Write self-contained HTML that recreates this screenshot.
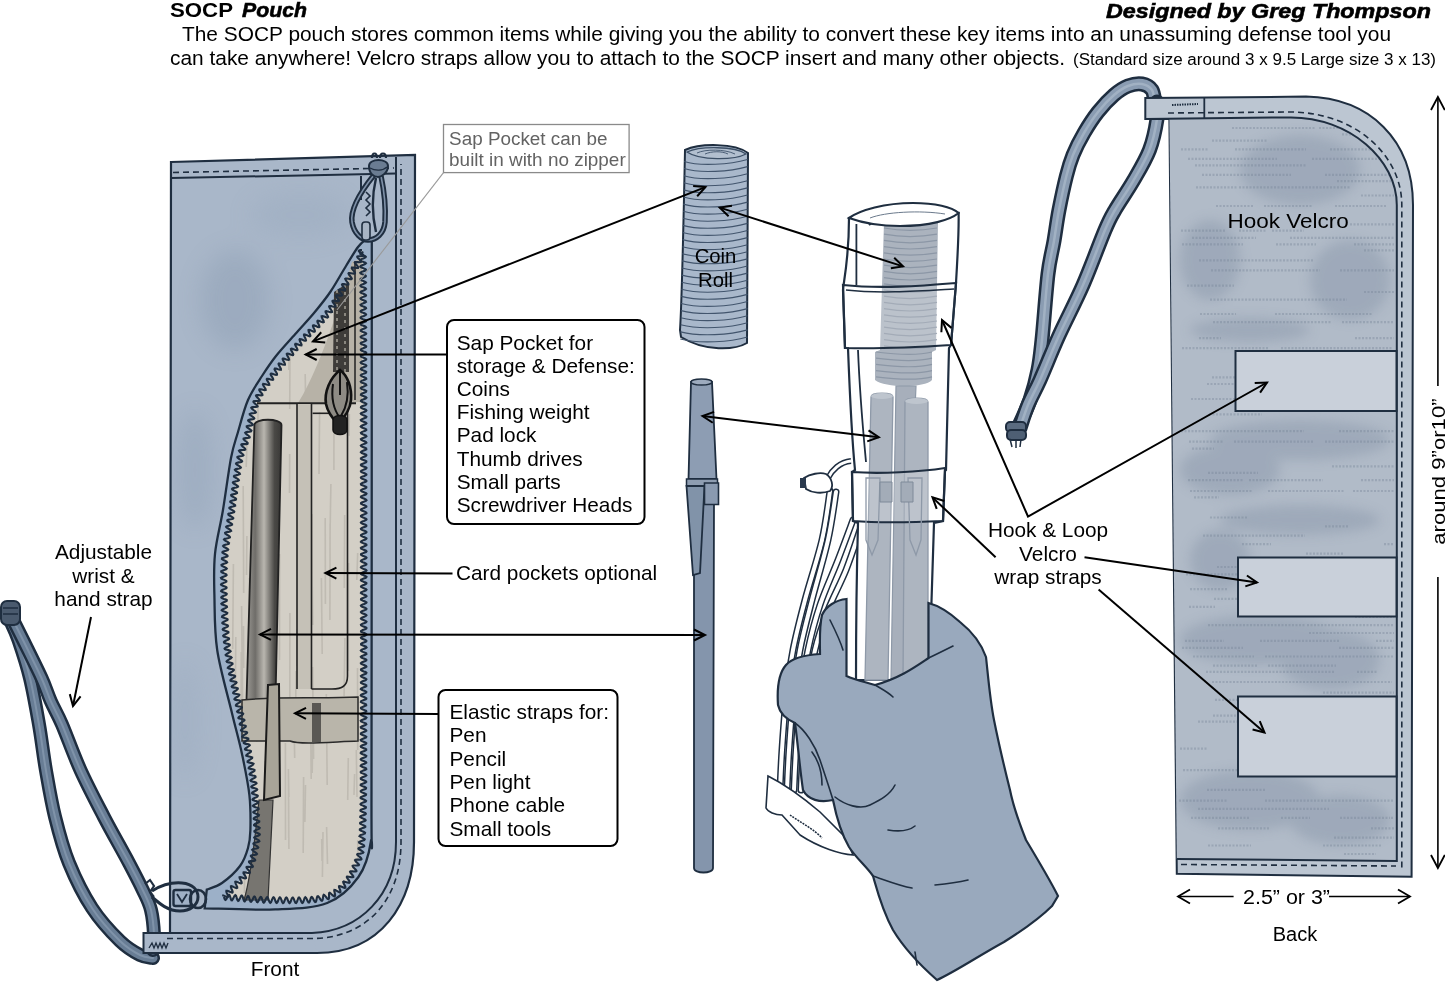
<!DOCTYPE html>
<html><head><meta charset="utf-8">
<style>
html,body{margin:0;padding:0;background:#fff;width:1445px;height:1001px;overflow:hidden}
svg{display:block;position:absolute;left:0;top:0;will-change:transform}
text{font-family:"Liberation Sans",sans-serif;fill:#000}
.lb{font-size:20.8px}
</style></head><body>
<svg width="1445" height="1001" viewBox="0 0 1445 1001">
<defs>
<marker id="ah" markerWidth="16" markerHeight="16" refX="13" refY="8" orient="auto-start-reverse" markerUnits="userSpaceOnUse">
<path d="M2,2.5 L13,8 L2,13.5" fill="none" stroke="#000" stroke-width="2"/>
</marker>
<filter id="blur12" x="-50%" y="-50%" width="200%" height="200%"><feGaussianBlur stdDeviation="12"/></filter>
<filter id="blur6" x="-50%" y="-50%" width="200%" height="200%"><feGaussianBlur stdDeviation="6"/></filter>
<filter id="wc" x="0" y="0" width="100%" height="100%">
<feTurbulence type="fractalNoise" baseFrequency="0.02" numOctaves="3" seed="3" result="n"/>
<feColorMatrix in="n" type="matrix" values="0 0 0 0 0.12  0 0 0 0 0.18  0 0 0 0 0.25  0 0 0 -1.6 0.9" result="a"/>
<feComposite in="a" in2="SourceGraphic" operator="in"/>
</filter>
</defs>
<g id="hdr">
<text x="170" y="17.4" style="font-size:21px;font-weight:bold" textLength="63" lengthAdjust="spacingAndGlyphs">SOCP</text>
<text x="242" y="17.4" stroke="#000" stroke-width="0.6" style="font-size:21px;font-weight:bold;font-style:italic" textLength="65" lengthAdjust="spacingAndGlyphs">Pouch</text>
<text x="1431" y="17.5" text-anchor="end" stroke="#000" stroke-width="0.6" style="font-size:21px;font-weight:bold;font-style:italic" textLength="325" lengthAdjust="spacingAndGlyphs">Designed by Greg Thompson</text>
<text x="182" y="41.2" style="font-size:20.5px" textLength="1209" lengthAdjust="spacingAndGlyphs">The SOCP pouch stores common items while giving you the ability to convert these key items into an unassuming defense tool you</text>
<text x="170" y="64.8" style="font-size:20.5px" textLength="895" lengthAdjust="spacingAndGlyphs">can take anywhere! Velcro straps allow you to attach to the SOCP insert and many other objects.</text>
<text x="1073" y="64.8" style="font-size:16px" textLength="363" lengthAdjust="spacingAndGlyphs">(Standard size around 3 x 9.5 Large size 3 x 13)</text>
</g>
<g id="front">
<path d="M10.0,620.0 C11.4,623.3 15.2,630.3 18.5,640.0 C21.8,649.7 26.6,663.9 30.0,678.0 C33.4,692.1 36.3,709.1 39.0,724.5 C41.7,739.9 43.3,755.2 46.0,770.6 C48.7,786.0 51.2,801.3 55.0,816.7 C58.8,832.1 62.8,847.8 69.0,863.0 C75.2,878.2 83.5,895.0 92.0,908.0 C100.5,921.0 112.0,933.2 120.0,941.0 C128.0,948.8 134.5,952.2 140.0,955.0 C145.5,957.8 150.8,957.5 153.0,958.0" fill="none" stroke="#1f2e40" stroke-width="14" stroke-linecap="round"/><path d="M10.0,620.0 C11.4,623.3 15.2,630.3 18.5,640.0 C21.8,649.7 26.6,663.9 30.0,678.0 C33.4,692.1 36.3,709.1 39.0,724.5 C41.7,739.9 43.3,755.2 46.0,770.6 C48.7,786.0 51.2,801.3 55.0,816.7 C58.8,832.1 62.8,847.8 69.0,863.0 C75.2,878.2 83.5,895.0 92.0,908.0 C100.5,921.0 112.0,933.2 120.0,941.0 C128.0,948.8 134.5,952.2 140.0,955.0 C145.5,957.8 150.8,957.5 153.0,958.0" fill="none" stroke="#687d95" stroke-width="9" stroke-linecap="round"/><path d="M10.0,620.0 C11.4,623.3 15.2,630.3 18.5,640.0 C21.8,649.7 26.6,663.9 30.0,678.0 C33.4,692.1 36.3,709.1 39.0,724.5 C41.7,739.9 43.3,755.2 46.0,770.6 C48.7,786.0 51.2,801.3 55.0,816.7 C58.8,832.1 62.8,847.8 69.0,863.0 C75.2,878.2 83.5,895.0 92.0,908.0 C100.5,921.0 112.0,933.2 120.0,941.0 C128.0,948.8 134.5,952.2 140.0,955.0 C145.5,957.8 150.8,957.5 153.0,958.0" fill="none" stroke="#8fa2b8" stroke-width="2" stroke-linecap="round" opacity="0.6"/>
<path d="M13.0,620.0 C14.8,623.7 19.2,632.3 24.0,642.0 C28.8,651.7 37.0,668.2 41.5,678.0 C46.0,687.8 47.3,693.2 50.7,701.0 C54.1,708.8 57.0,712.9 62.0,724.5 C67.0,736.1 73.7,755.2 80.7,770.6 C87.7,786.0 95.8,801.3 103.8,816.7 C111.8,832.1 122.5,850.7 129.0,863.0 C135.5,875.3 139.3,882.7 143.0,890.5 C146.7,898.3 149.2,902.6 151.0,910.0 C152.8,917.4 153.7,928.3 154.0,935.0 C154.3,941.7 153.2,947.5 153.0,950.0" fill="none" stroke="#1f2e40" stroke-width="14" stroke-linecap="round"/><path d="M13.0,620.0 C14.8,623.7 19.2,632.3 24.0,642.0 C28.8,651.7 37.0,668.2 41.5,678.0 C46.0,687.8 47.3,693.2 50.7,701.0 C54.1,708.8 57.0,712.9 62.0,724.5 C67.0,736.1 73.7,755.2 80.7,770.6 C87.7,786.0 95.8,801.3 103.8,816.7 C111.8,832.1 122.5,850.7 129.0,863.0 C135.5,875.3 139.3,882.7 143.0,890.5 C146.7,898.3 149.2,902.6 151.0,910.0 C152.8,917.4 153.7,928.3 154.0,935.0 C154.3,941.7 153.2,947.5 153.0,950.0" fill="none" stroke="#687d95" stroke-width="9" stroke-linecap="round"/><path d="M13.0,620.0 C14.8,623.7 19.2,632.3 24.0,642.0 C28.8,651.7 37.0,668.2 41.5,678.0 C46.0,687.8 47.3,693.2 50.7,701.0 C54.1,708.8 57.0,712.9 62.0,724.5 C67.0,736.1 73.7,755.2 80.7,770.6 C87.7,786.0 95.8,801.3 103.8,816.7 C111.8,832.1 122.5,850.7 129.0,863.0 C135.5,875.3 139.3,882.7 143.0,890.5 C146.7,898.3 149.2,902.6 151.0,910.0 C152.8,917.4 153.7,928.3 154.0,935.0 C154.3,941.7 153.2,947.5 153.0,950.0" fill="none" stroke="#8fa2b8" stroke-width="2" stroke-linecap="round" opacity="0.6"/>
<rect x="1" y="601" width="19" height="24" rx="6" fill="#4a5a6e" stroke="#1f2e40" stroke-width="2"/>
<path d="M3,608 L18,608 M3,614 L18,614" stroke="#1f2e40" stroke-width="1.5"/>
<path d="M171,162 L415,155 L414,842 C414,905 380,953 317,953 L170,953 L170,933 Z" fill="#a9b7c9" stroke="#1f2e40" stroke-width="2.2"/>
<clipPath id="fclip"><path d="M171,162 L415,155 L414,842 C414,905 380,953 317,953 L170,953 L170,933 Z"/></clipPath>
<g clip-path="url(#fclip)"><g opacity="0.22" filter="url(#blur12)"><ellipse cx="235" cy="300" rx="35" ry="50" fill="#6f839c"/><ellipse cx="195" cy="470" rx="18" ry="60" fill="#7d90a8"/><ellipse cx="185" cy="720" rx="14" ry="60" fill="#8ea0b6"/><ellipse cx="300" cy="215" rx="50" ry="22" fill="#8ea0b6"/></g></g>
<path d="M143.5,933 L312,933 L317,953 L143.5,953 Z" fill="#a9b7c9"/>
<path d="M312,933 L143.5,933 L143.5,953 L317,953" fill="none" stroke="#1f2e40" stroke-width="2"/>
<path d="M149,948 L152,943 L154,948 L156,943 L158,948 L160,943 L162,948 L164,943 L166,948 L168,943" fill="none" stroke="#1f2e40" stroke-width="1.3"/>
<path d="M167,938.5 L312,938.5 C362,938.5 401,905 401,842 L401,164" fill="none" stroke="#1f2e40" stroke-width="1.6" stroke-dasharray="6,4"/>
<path d="M173,172.5 L394,168" fill="none" stroke="#1f2e40" stroke-width="1.6" stroke-dasharray="6,4"/>
<path d="M171,178 L396,173.6" fill="none" stroke="#1f2e40" stroke-width="2"/>
<path d="M396,157 L396,842 C396,895 360,931 312,933" fill="none" stroke="#1f2e40" stroke-width="2"/>
<path d="M366.4,239.0 C365.0,240.3 361.4,242.5 358.0,247.0 C354.6,251.5 350.6,258.6 346.0,266.0 C341.4,273.4 335.9,283.7 330.6,291.5 C325.3,299.3 319.9,305.9 314.0,313.0 C308.1,320.1 301.6,326.8 295.3,334.0 C289.0,341.2 281.6,349.0 276.0,356.0 C270.4,363.0 266.7,368.7 262.0,376.0 C257.3,383.3 252.0,390.7 248.0,400.0 C244.0,409.3 240.8,422.3 238.0,432.0 C235.2,441.7 233.5,444.8 231.0,458.0 C228.5,471.2 225.5,495.0 222.8,511.0 C220.1,527.0 216.4,539.8 215.0,553.8 C213.6,567.8 214.0,579.3 214.4,595.3 C214.8,611.3 214.3,630.5 217.2,650.0 C220.1,669.5 227.6,694.7 231.7,712.0 C235.8,729.3 239.1,740.2 242.0,754.0 C244.9,767.8 248.0,782.3 249.4,795.0 C250.8,807.7 250.6,821.2 250.4,830.0 C250.2,838.8 249.7,842.0 248.0,848.0 C246.3,854.0 244.3,860.2 240.0,866.0 C235.7,871.8 227.5,879.1 222.0,883.0 C216.5,886.9 209.3,888.5 206.8,889.6 L204.7,908.3  C216.5,908.5 254.9,910.3 275.3,909.4 C295.7,908.5 313.4,908.4 327.2,903.0 C341.0,897.6 351.1,887.2 358.4,877.0 C365.7,866.8 368.6,856.5 370.8,842.0 C373.0,827.5 371.3,890.3 371.5,790.0 C371.7,689.7 371.8,331.7 371.8,240.0 Z" fill="#9cb0c8" stroke="#1f2e40" stroke-width="2.3"/>
<path d="M362.0,250.0 C361.3,252.0 360.7,256.5 358.0,262.0 C355.3,267.5 351.2,274.3 346.0,283.0 C340.8,291.7 334.8,303.8 327.0,314.0 C319.2,324.2 307.8,334.0 299.0,344.0 C290.2,354.0 281.0,364.7 274.0,374.0 C267.0,383.3 261.5,389.5 257.0,400.0 C252.5,410.5 249.9,426.8 247.0,436.8 C244.1,446.8 242.1,447.6 239.5,460.0 C236.9,472.4 234.0,495.4 231.6,511.0 C229.2,526.6 226.3,539.8 225.0,553.8 C223.7,567.8 223.6,579.3 224.0,595.3 C224.4,611.3 224.9,630.5 227.6,650.0 C230.3,669.5 235.8,691.2 240.0,712.0 C244.2,732.8 249.8,756.6 252.5,774.6 C255.2,792.6 255.9,808.3 256.5,820.0 C257.1,831.7 257.6,836.3 256.0,845.0 C254.4,853.7 252.3,863.3 247.0,872.0 C241.7,880.7 227.8,892.8 224.0,897.0  C231.7,897.5 254.5,899.7 270.0,900.0 C285.5,900.3 305.1,900.8 316.8,899.0 C328.5,897.2 333.5,894.7 340.0,889.0 C346.5,883.3 352.2,874.8 356.0,865.0 C359.8,855.2 361.2,857.5 362.5,830.0 C363.8,802.5 363.4,771.7 363.6,700.0 C363.8,628.3 363.7,474.7 363.6,400.0 C363.5,325.3 363.1,276.7 363.0,252.0 Z" fill="#d3cfc6"/>
<clipPath id="inclip"><path d="M362.0,250.0 C361.3,252.0 360.7,256.5 358.0,262.0 C355.3,267.5 351.2,274.3 346.0,283.0 C340.8,291.7 334.8,303.8 327.0,314.0 C319.2,324.2 307.8,334.0 299.0,344.0 C290.2,354.0 281.0,364.7 274.0,374.0 C267.0,383.3 261.5,389.5 257.0,400.0 C252.5,410.5 249.9,426.8 247.0,436.8 C244.1,446.8 242.1,447.6 239.5,460.0 C236.9,472.4 234.0,495.4 231.6,511.0 C229.2,526.6 226.3,539.8 225.0,553.8 C223.7,567.8 223.6,579.3 224.0,595.3 C224.4,611.3 224.9,630.5 227.6,650.0 C230.3,669.5 235.8,691.2 240.0,712.0 C244.2,732.8 249.8,756.6 252.5,774.6 C255.2,792.6 255.9,808.3 256.5,820.0 C257.1,831.7 257.6,836.3 256.0,845.0 C254.4,853.7 252.3,863.3 247.0,872.0 C241.7,880.7 227.8,892.8 224.0,897.0  C231.7,897.5 254.5,899.7 270.0,900.0 C285.5,900.3 305.1,900.8 316.8,899.0 C328.5,897.2 333.5,894.7 340.0,889.0 C346.5,883.3 352.2,874.8 356.0,865.0 C359.8,855.2 361.2,857.5 362.5,830.0 C363.8,802.5 363.4,771.7 363.6,700.0 C363.8,628.3 363.7,474.7 363.6,400.0 C363.5,325.3 363.1,276.7 363.0,252.0 Z"/></clipPath>
<path clip-path="url(#inclip)" d="M289.9,613 L289.8,717 M297.0,629 L297.0,666 M312.6,744 L312.2,773 M243.6,753 L242.7,836 M357.7,840 L358.0,919 M252.2,308 L251.3,376 M256.3,435 L256.3,458 M288.4,772 L288.7,838 M296.0,671 L295.5,732 M359.7,858 L360.1,953 M272.4,429 L271.5,475 M330.1,524 L329.9,620 M354.6,774 L354.0,795 M348.5,563 L348.3,671 M241.3,652 L240.9,743 M243.2,486 L243.7,593 M247.1,438 L246.2,467 M334.0,399 L333.9,470 M256.4,710 L256.7,742 M246.9,536 L246.5,575 M356.3,750 L357.0,797 M259.0,521 L259.3,618 M244.8,854 L244.4,893 M330.9,484 L330.1,531 M243.5,626 L243.7,668 M279.6,554 L279.5,660 M305.5,785 L304.9,822 M348.3,758 L347.7,800 M326.6,827 L327.5,864 M344.9,638 L344.1,696 M237.0,839 L237.4,881 M264.9,761 L264.5,835 M254.5,703 L253.9,730 M303.6,777 L303.2,853 M349.4,414 L349.0,436 M289.1,334 L288.8,370 M305.2,374 L306.0,426 M357.5,668 L357.7,750 M250.0,320 L250.8,341 M321.7,839 L322.0,861 M293.7,709 L294.7,758 M241.6,606 L242.4,692 M326.3,694 L327.2,785 M277.0,684 L277.8,785 M285.4,743 L285.5,840 M312.0,514 L312.2,587 M242.3,658 L243.0,767 M325.2,518 L325.4,604 M288.4,769 L288.9,797 M235.8,637 L235.3,700 M321.4,578 L322.2,654 M264.7,306 L265.1,353 M257.9,395 L258.2,496 M288.6,799 L288.9,849 M257.4,541 L258.2,634 M344.7,515 L344.3,588 M249.4,578 L250.1,673 M323.0,832 L322.4,877 M289.7,454 L289.5,493 M312.1,577 L312.8,625 M357.7,553 L356.8,580 M343.7,323 L343.9,407 M271.6,743 L270.8,765 M290.2,314 L289.7,409 M250.0,326 L249.9,403 M312.6,667 L313.6,759 M319.6,412 L319.0,474 M233.4,564 L232.7,649 M266.9,494 L266.9,576 M310.6,723 L311.2,779" stroke="#9a968d" stroke-width="1.6" opacity="0.35" fill="none"/>
<path d="M352,262 L362,258 L362,402 L298,403 C310,385 330,340 352,262 Z" fill="#b7b2a7"/>
<path d="M334,292 L349,282 L349,372 L333,372 Z" fill="#3e3c39"/>
<path d="M337,290 L337,372 M345,285 L345,372" stroke="#8a877f" stroke-width="2" stroke-dasharray="3,4"/>
<path d="M355,262 L355,400" stroke="#2a2a2a" stroke-width="1.6"/>
<path d="M257,403.3 L356,403.3" stroke="#222" stroke-width="2"/>
<path d="M312.6,413.3 L329,413.3" stroke="#222" stroke-width="1.6"/>
<rect x="297" y="404" width="14.5" height="285" fill="#c5c1b7"/>
<path d="M297,404 L297,689 M311.5,404 L311.5,689 M347.5,404 L347.5,676 C347.5,686 342,689 332,689 L311.5,689" fill="none" stroke="#222" stroke-width="1.6"/>
<defs><linearGradient id="peng" x1="0" x2="1" y1="0" y2="0"><stop offset="0" stop-color="#9a9893"/><stop offset="0.25" stop-color="#6f6d69"/><stop offset="0.5" stop-color="#b9b6af"/><stop offset="0.8" stop-color="#4a4946"/><stop offset="1" stop-color="#3a3937"/></linearGradient></defs>
<path d="M254.4,425 C254.4,418 281.5,418 281.5,425 L275.5,700 L246.5,700 Z" fill="url(#peng)" stroke="#222" stroke-width="1.8"/>
<path d="M259,800 L273,800 L268,900 L244,900 C250,880 255,840 259,800 Z" fill="#777570" stroke="#333" stroke-width="1.2"/>
<path d="M242,700 C280,696 320,699 358,697 L358,741 C330,742 300,745 290,741 C270,741 255,741 242,741 Z" fill="#b9b5aa" stroke="#2a2a2a" stroke-width="1.5"/>
<path d="M312,703 L321,703 L321,742 L312,742 Z" fill="#5a5854"/>
<path d="M268,685 L279,684 L280,796 L264,800 Z" fill="#a8a498" stroke="#1a1a1a" stroke-width="2"/>
<path d="M362.0,250.0 L360.5,250.1 L359.2,250.5 L358.8,251.0 L359.3,251.7 L360.6,252.7 L362.2,253.8 L363.3,254.9 L363.4,255.4 L362.9,255.9 L361.7,256.1 L360.1,256.2 L358.5,256.3 L357.4,256.5 L357.2,257.0 L357.8,257.9 L359.1,259.1 L360.5,260.4 L361.2,261.4 L360.8,262.1 L359.3,262.2 L357.8,262.1 L356.2,262.0 L355.0,262.0 L354.7,262.5 L355.2,263.4 L356.3,264.7 L357.5,266.1 L358.2,267.2 L358.0,267.9 L356.8,268.0 L355.0,267.8 L353.1,267.5 L351.9,267.6 L351.8,268.4 L352.7,269.7 L354.1,271.4 L354.8,272.4 L355.0,273.1 L354.7,273.5 L353.9,273.6 L352.5,273.5 L351.0,273.2 L349.7,273.0 L348.8,273.1 L348.5,273.5 L348.9,274.4 L349.7,275.5 L350.7,276.8 L351.5,277.9 L351.8,278.7 L351.3,279.1 L350.1,279.1 L348.5,278.8 L346.9,278.5 L345.7,278.5 L345.2,278.9 L345.6,279.8 L346.5,281.1 L347.6,282.5 L348.4,283.7 L348.4,284.4 L347.5,284.6 L346.0,284.5 L344.1,284.1 L342.6,284.0 L342.0,284.4 L342.3,285.4 L343.4,286.8 L344.6,288.3 L345.3,289.5 L345.0,290.1 L343.6,290.1 L341.6,289.8 L339.8,289.6 L338.8,289.9 L339.1,290.9 L340.2,292.4 L341.6,294.0 L342.2,295.2 L341.9,295.6 L341.1,295.7 L339.9,295.6 L338.4,295.4 L337.1,295.2 L336.1,295.2 L335.7,295.5 L335.8,296.2 L336.5,297.2 L337.4,298.3 L338.3,299.5 L338.9,300.4 L338.9,301.0 L338.4,301.3 L337.2,301.3 L335.8,301.0 L334.3,300.7 L333.2,300.6 L332.5,300.9 L332.5,301.5 L333.0,302.4 L333.9,303.6 L334.8,304.8 L335.5,305.8 L335.6,306.5 L335.1,306.8 L334.0,306.8 L332.5,306.5 L331.1,306.1 L329.8,306.0 L329.2,306.2 L329.1,306.7 L329.6,307.7 L330.4,308.9 L331.3,310.2 L331.9,311.2 L332.0,312.0 L331.4,312.2 L330.3,312.1 L328.9,311.8 L327.4,311.4 L326.3,311.1 L325.6,311.3 L325.5,311.8 L325.9,312.8 L326.6,314.0 L327.6,315.7 L328.1,317.0 L327.5,317.5 L326.0,317.2 L324.1,316.5 L322.4,316.0 L321.6,316.3 L321.8,317.4 L322.7,319.2 L323.6,320.9 L323.8,322.1 L323.0,322.4 L321.2,321.8 L319.3,321.0 L317.8,320.7 L317.4,321.0 L317.4,321.7 L317.8,322.8 L318.5,324.1 L319.1,325.3 L319.4,326.4 L319.3,327.0 L318.7,327.1 L317.7,326.9 L316.4,326.3 L315.1,325.8 L314.0,325.3 L313.2,325.3 L312.9,325.8 L313.1,326.6 L313.6,327.9 L314.3,329.2 L314.8,330.4 L314.9,331.3 L314.6,331.7 L313.8,331.7 L312.6,331.2 L311.3,330.6 L310.0,330.1 L309.0,329.8 L308.5,330.0 L308.5,330.7 L308.8,331.8 L309.4,333.1 L310.0,334.4 L310.4,335.5 L310.3,336.1 L309.8,336.3 L308.7,336.0 L307.5,335.5 L306.1,334.9 L305.0,334.5 L304.2,334.4 L303.9,334.9 L304.1,335.7 L304.6,336.9 L305.3,338.3 L305.8,339.5 L306.0,340.4 L305.7,340.8 L305.0,340.8 L303.9,340.4 L302.5,339.8 L301.2,339.3 L299.8,339.1 L299.5,339.7 L300.0,341.3 L301.0,343.2 L301.6,344.7 L301.4,345.4 L300.0,345.3 L298.7,344.8 L297.3,344.3 L296.2,343.9 L295.4,343.9 L295.1,344.4 L295.4,345.3 L296.0,346.5 L296.7,347.8 L297.3,349.0 L297.5,349.9 L297.1,350.2 L296.3,350.2 L295.0,349.8 L293.6,349.3 L292.3,348.8 L291.4,348.7 L290.9,349.0 L291.0,349.8 L291.6,350.9 L292.3,352.2 L292.9,353.5 L293.3,354.4 L293.1,355.0 L292.4,355.1 L291.3,354.8 L289.9,354.3 L288.5,353.8 L287.5,353.5 L286.8,353.7 L286.8,354.3 L287.2,355.3 L287.8,356.6 L288.6,357.9 L289.0,359.0 L289.1,359.7 L288.6,359.9 L287.6,359.8 L286.3,359.4 L285.0,358.9 L283.7,358.5 L282.9,358.5 L282.6,358.9 L282.8,359.7 L283.3,360.8 L284.1,362.1 L284.7,363.3 L285.0,364.2 L284.9,364.7 L284.2,364.8 L282.5,364.4 L280.5,363.7 L279.0,363.4 L278.5,364.0 L279.0,365.4 L280.1,367.2 L280.9,368.8 L280.9,369.7 L279.8,369.7 L278.0,369.2 L276.1,368.6 L274.8,368.5 L274.5,369.2 L275.1,370.5 L276.2,372.2 L277.0,373.7 L277.0,374.6 L276.1,374.8 L274.5,374.4 L272.9,373.9 L271.6,373.6 L270.8,373.7 L270.6,374.2 L271.0,375.2 L271.7,376.4 L272.6,377.7 L273.1,378.8 L273.2,379.6 L272.8,379.9 L271.8,379.8 L270.5,379.4 L269.1,379.0 L267.9,378.7 L267.0,378.7 L266.7,379.1 L267.1,380.4 L268.2,382.1 L269.2,383.8 L269.3,384.8 L268.4,384.9 L266.6,384.5 L264.6,384.0 L263.2,383.9 L262.9,384.5 L263.5,385.8 L264.6,387.5 L265.6,389.0 L265.7,389.9 L264.7,390.1 L262.9,389.7 L260.9,389.3 L259.5,389.3 L259.2,390.0 L260.0,391.4 L261.4,393.0 L262.4,394.4 L262.4,395.2 L261.2,395.4 L259.8,395.3 L258.4,395.1 L257.1,395.0 L256.3,395.2 L256.0,395.7 L256.4,396.4 L257.3,397.5 L258.4,398.5 L259.3,399.6 L259.8,400.3 L259.6,400.8 L258.8,401.0 L257.0,401.0 L255.1,401.0 L253.7,401.2 L253.4,401.9 L254.4,403.0 L255.9,404.4 L257.3,405.6 L257.6,406.5 L257.0,406.8 L255.9,406.9 L254.4,407.0 L253.0,407.1 L251.9,407.3 L251.3,407.7 L251.5,408.3 L252.2,409.1 L253.4,410.0 L254.6,410.8 L255.5,411.6 L255.9,412.3 L255.5,412.7 L254.5,413.0 L253.0,413.2 L251.5,413.3 L250.3,413.6 L249.7,414.0 L249.8,414.6 L250.6,415.3 L251.8,416.2 L253.1,417.0 L254.0,417.8 L254.3,418.4 L253.9,418.9 L252.8,419.2 L251.3,419.4 L249.8,419.6 L248.6,419.9 L248.1,420.3 L248.3,420.9 L249.2,421.6 L250.4,422.5 L251.7,423.3 L252.6,424.1 L252.9,424.7 L252.4,425.1 L251.4,425.4 L250.0,425.6 L248.5,425.8 L247.3,426.1 L246.7,426.4 L246.8,427.0 L247.5,427.7 L248.6,428.4 L250.3,429.6 L251.4,430.6 L251.1,431.3 L249.6,431.7 L247.6,431.9 L245.9,432.2 L245.2,432.8 L245.7,433.6 L247.0,434.6 L248.5,435.7 L249.6,436.7 L249.7,437.4 L249.1,437.8 L247.6,438.0 L245.9,438.1 L244.4,438.2 L243.6,438.5 L243.5,439.0 L244.1,439.8 L245.1,440.7 L246.7,442.0 L247.7,443.1 L247.5,443.8 L246.3,444.1 L244.5,444.1 L242.8,444.0 L241.6,444.2 L241.3,444.7 L241.8,445.6 L242.9,446.7 L244.2,447.8 L245.1,448.8 L245.3,449.5 L244.6,449.9 L243.1,450.0 L241.2,450.1 L239.6,450.3 L239.0,450.8 L239.7,451.8 L240.7,452.7 L241.9,453.6 L243.0,454.5 L243.5,455.2 L243.1,455.7 L242.0,456.0 L240.2,456.2 L238.5,456.4 L237.4,456.9 L237.4,457.6 L238.7,458.7 L240.5,459.8 L241.6,460.6 L242.1,461.3 L241.7,461.8 L240.6,462.2 L238.9,462.4 L237.2,462.8 L236.2,463.2 L236.0,463.8 L236.9,464.6 L238.5,465.6 L240.0,466.5 L240.9,467.4 L240.6,468.0 L239.2,468.5 L237.2,468.9 L235.5,469.3 L234.9,469.9 L235.6,470.8 L237.3,471.8 L239.0,472.9 L239.7,473.5 L239.9,474.0 L239.3,474.4 L238.2,474.8 L236.8,475.1 L235.4,475.4 L234.3,475.7 L233.9,476.2 L234.1,476.8 L235.0,477.4 L236.3,478.1 L237.6,478.9 L238.6,479.6 L238.9,480.2 L238.5,480.6 L237.5,481.0 L236.0,481.3 L234.5,481.7 L233.4,482.0 L232.9,482.5 L233.2,483.1 L234.1,483.8 L235.5,484.5 L236.8,485.3 L237.7,486.0 L238.0,486.6 L237.4,487.0 L236.3,487.4 L234.7,487.8 L233.3,488.1 L232.3,488.5 L232.0,489.0 L232.5,489.7 L233.6,490.4 L235.0,491.1 L236.3,491.9 L237.0,492.5 L237.0,493.1 L236.2,493.5 L234.9,493.9 L233.3,494.2 L232.0,494.6 L231.2,495.0 L231.2,495.5 L231.8,496.2 L233.1,496.9 L234.4,497.6 L235.6,498.3 L236.1,499.0 L236.0,499.5 L235.2,499.9 L233.8,500.2 L232.3,500.6 L231.0,500.9 L230.3,501.3 L230.2,501.8 L230.9,502.5 L232.0,503.1 L233.3,503.8 L234.4,504.5 L235.1,505.1 L235.2,505.7 L234.6,506.1 L232.8,506.6 L230.8,507.0 L229.4,507.6 L229.4,508.3 L230.6,509.2 L232.3,510.2 L233.8,511.1 L234.3,511.7 L234.1,512.2 L233.1,512.6 L231.7,512.9 L230.2,513.3 L228.9,513.6 L228.3,514.0 L228.4,514.6 L229.2,515.3 L230.4,516.0 L231.8,516.8 L232.8,517.5 L233.3,518.1 L233.0,518.6 L232.1,519.0 L230.7,519.3 L229.2,519.5 L228.0,519.8 L227.3,520.3 L227.3,520.8 L227.9,521.4 L229.0,522.1 L230.3,522.9 L231.4,523.6 L232.1,524.2 L232.1,524.7 L231.4,525.1 L230.3,525.4 L228.8,525.7 L227.5,526.0 L226.5,526.3 L226.1,526.8 L226.4,527.3 L227.2,528.0 L229.0,529.0 L230.6,530.1 L231.1,530.9 L230.1,531.5 L228.2,531.9 L226.2,532.3 L225.1,532.9 L225.3,533.7 L226.7,534.7 L228.6,535.7 L229.8,536.7 L229.9,537.4 L228.6,537.9 L226.6,538.4 L224.8,538.8 L224.0,539.4 L224.6,540.3 L226.1,541.2 L227.9,542.2 L229.0,543.1 L228.7,543.8 L227.3,544.3 L225.3,544.8 L223.6,545.3 L223.1,546.0 L223.9,546.8 L225.6,547.8 L227.3,548.7 L228.2,549.5 L227.8,550.2 L226.1,550.7 L224.1,551.3 L222.6,551.8 L222.4,552.6 L223.5,553.4 L225.4,554.3 L226.6,555.0 L227.4,555.5 L227.6,556.0 L227.1,556.5 L225.5,557.1 L223.4,557.7 L222.0,558.3 L221.9,559.1 L223.1,559.9 L225.0,560.8 L226.6,561.6 L227.1,562.3 L226.3,563.0 L224.6,563.6 L222.7,564.2 L221.5,564.9 L221.6,565.6 L222.9,566.4 L224.8,567.2 L226.3,568.0 L226.8,568.7 L226.0,569.4 L224.2,570.0 L222.4,570.7 L221.2,571.3 L221.4,572.1 L222.7,572.8 L224.6,573.6 L226.2,574.3 L226.6,575.1 L225.8,575.8 L224.0,576.5 L222.1,577.2 L221.0,577.9 L221.4,578.6 L222.9,579.4 L224.9,580.1 L226.3,580.9 L226.4,581.6 L225.7,582.1 L224.5,582.6 L223.2,583.1 L221.9,583.7 L221.2,584.2 L221.0,584.7 L221.6,585.2 L222.8,585.7 L224.2,586.2 L225.5,586.7 L226.4,587.2 L226.6,587.8 L226.1,588.3 L225.0,588.9 L223.5,589.4 L222.2,590.0 L221.3,590.6 L221.1,591.1 L221.8,591.7 L223.0,592.2 L224.6,592.7 L225.9,593.2 L226.7,593.8 L226.6,594.4 L225.7,595.0 L224.5,595.5 L222.7,596.2 L221.5,596.9 L221.3,597.6 L222.3,598.2 L224.0,598.9 L225.8,599.5 L226.8,600.1 L226.7,600.8 L225.5,601.6 L223.7,602.3 L222.1,603.1 L221.4,603.8 L222.1,604.5 L223.7,605.1 L225.6,605.8 L226.9,606.4 L227.0,607.1 L225.8,607.9 L224.0,608.7 L222.3,609.5 L221.7,610.2 L222.4,610.9 L224.1,611.6 L226.1,612.2 L227.3,612.9 L227.1,613.6 L225.7,614.4 L223.7,615.3 L222.2,616.1 L222.0,616.9 L223.2,617.5 L224.5,618.0 L225.9,618.4 L227.0,618.9 L227.6,619.3 L227.6,619.8 L226.9,620.4 L225.7,620.9 L224.4,621.5 L223.2,622.1 L222.4,622.7 L222.3,623.2 L222.8,623.7 L224.0,624.1 L225.4,624.5 L226.7,625.0 L227.7,625.4 L228.0,625.9 L227.7,626.4 L226.8,627.0 L225.5,627.6 L224.1,628.2 L223.1,628.8 L222.7,629.4 L223.0,629.9 L223.9,630.3 L225.2,630.8 L226.7,631.2 L227.9,631.6 L228.5,632.1 L228.4,632.6 L227.6,633.2 L226.3,633.8 L225.0,634.5 L223.8,635.1 L223.2,635.7 L223.4,636.2 L224.2,636.7 L225.5,637.1 L227.0,637.5 L228.2,637.9 L229.0,638.3 L229.0,638.9 L228.3,639.5 L227.1,640.1 L225.7,640.8 L224.5,641.4 L223.9,642.1 L224.0,642.6 L224.8,643.0 L226.1,643.4 L227.6,643.8 L228.9,644.2 L229.7,644.6 L229.7,645.2 L229.0,645.8 L227.8,646.5 L226.4,647.2 L225.3,647.9 L224.6,648.5 L224.8,649.0 L225.6,649.5 L227.0,649.8 L228.4,650.1 L230.0,650.6 L230.6,651.2 L229.9,652.0 L228.3,653.0 L226.6,654.0 L225.6,654.9 L225.9,655.5 L227.3,656.0 L229.4,656.4 L231.0,656.9 L231.6,657.5 L230.8,658.4 L229.1,659.4 L227.4,660.5 L226.6,661.3 L227.1,662.0 L228.8,662.4 L230.9,662.8 L232.4,663.3 L232.6,664.0 L231.5,665.0 L229.7,666.1 L228.2,667.1 L227.8,667.9 L228.9,668.5 L230.8,668.9 L232.8,669.2 L233.7,669.6 L233.9,670.0 L233.5,670.6 L232.5,671.3 L231.3,672.1 L230.1,672.9 L229.3,673.5 L229.0,674.1 L229.4,674.6 L230.4,674.9 L231.8,675.1 L233.2,675.3 L234.4,675.6 L235.1,676.0 L235.1,676.5 L234.5,677.1 L233.4,677.9 L232.2,678.7 L231.1,679.4 L230.4,680.1 L230.4,680.6 L231.1,681.0 L232.3,681.2 L233.7,681.4 L235.1,681.7 L236.1,682.0 L236.5,682.4 L236.2,683.0 L235.4,683.7 L234.2,684.5 L233.0,685.3 L232.1,686.0 L231.7,686.6 L232.0,687.1 L233.0,687.4 L234.3,687.6 L235.8,687.8 L237.0,688.1 L237.8,688.4 L237.8,688.9 L237.2,689.6 L236.2,690.4 L234.9,691.2 L233.8,691.9 L233.2,692.6 L233.2,693.1 L233.8,693.5 L235.1,693.8 L236.5,694.0 L237.9,694.2 L238.9,694.5 L239.3,694.9 L238.9,695.5 L238.1,696.3 L236.8,697.0 L235.6,697.8 L234.8,698.5 L234.4,699.1 L234.8,699.6 L235.8,699.9 L237.2,700.1 L238.6,700.3 L239.8,700.6 L240.5,701.0 L240.5,701.5 L239.9,702.1 L238.8,702.9 L237.6,703.7 L236.5,704.4 L235.9,705.1 L235.9,705.6 L236.6,706.0 L237.8,706.3 L239.2,706.5 L240.6,706.7 L241.6,707.0 L241.9,707.5 L241.6,708.0 L240.8,708.7 L239.6,709.5 L238.4,710.3 L237.5,711.0 L237.1,711.6 L237.4,712.0 L238.2,712.4 L240.3,712.7 L241.6,712.9 L242.7,713.2 L243.2,713.7 L243.0,714.2 L242.3,714.9 L241.1,715.6 L239.9,716.4 L238.9,717.1 L238.4,717.7 L238.5,718.2 L239.3,718.6 L240.6,718.8 L242.1,719.1 L243.4,719.3 L244.3,719.7 L244.5,720.1 L244.0,720.8 L243.0,721.5 L241.8,722.3 L240.6,723.1 L239.8,723.8 L239.7,724.3 L240.2,724.7 L241.4,725.0 L242.8,725.2 L244.3,725.5 L245.3,725.8 L245.8,726.2 L245.6,726.8 L244.7,727.5 L243.5,728.3 L242.2,729.1 L241.3,729.8 L241.0,730.4 L241.4,730.9 L242.4,731.2 L243.8,731.5 L245.3,731.7 L246.5,732.0 L247.1,732.4 L247.0,732.9 L246.2,733.6 L245.1,734.4 L243.8,735.2 L242.8,736.0 L242.3,736.6 L242.6,737.1 L243.5,737.4 L244.8,737.7 L246.3,737.9 L247.6,738.2 L248.3,738.5 L248.4,739.1 L247.8,739.7 L246.7,740.5 L245.4,741.3 L244.3,742.1 L243.7,742.7 L243.8,743.2 L244.5,743.6 L245.8,743.9 L247.3,744.1 L248.6,744.3 L249.5,744.7 L249.8,745.2 L249.3,745.8 L248.3,746.5 L247.1,747.3 L245.9,748.1 L245.1,748.8 L245.0,749.3 L245.5,749.7 L246.6,750.0 L248.0,750.3 L249.4,750.5 L250.5,750.8 L251.0,751.2 L250.9,751.8 L250.2,752.4 L249.0,753.2 L247.8,753.9 L246.8,754.7 L246.2,755.3 L246.3,755.8 L247.1,756.1 L249.0,756.5 L251.0,756.9 L252.2,757.4 L252.1,758.2 L250.7,759.2 L248.9,760.3 L247.6,761.3 L247.6,762.0 L248.8,762.5 L250.8,762.9 L252.6,763.3 L253.5,763.8 L253.1,764.6 L251.7,765.6 L250.0,766.6 L248.8,767.5 L248.7,768.3 L249.8,768.8 L251.6,769.1 L253.5,769.5 L254.5,770.0 L254.5,770.7 L253.4,771.6 L251.7,772.5 L250.3,773.4 L249.6,774.2 L250.1,774.8 L251.1,775.1 L252.7,775.5 L254.3,775.8 L255.4,776.3 L255.6,776.9 L254.9,777.6 L253.6,778.3 L252.1,779.1 L251.0,779.9 L250.5,780.5 L251.0,781.1 L252.2,781.5 L253.8,781.9 L255.3,782.2 L256.3,782.7 L256.5,783.3 L255.8,783.9 L254.6,784.6 L253.1,785.4 L251.9,786.1 L251.3,786.7 L251.5,787.2 L252.5,787.7 L254.0,788.1 L255.5,788.5 L256.7,788.9 L257.2,789.4 L256.9,790.0 L256.0,790.6 L254.6,791.3 L253.3,792.0 L252.3,792.6 L252.0,793.2 L252.4,793.7 L253.4,794.1 L254.8,794.5 L256.3,794.9 L257.4,795.3 L257.8,795.8 L257.6,796.4 L256.7,797.0 L255.4,797.6 L254.1,798.2 L253.0,798.8 L252.5,799.4 L252.7,799.9 L253.5,800.3 L254.7,800.7 L256.8,801.3 L258.1,802.0 L258.1,802.7 L256.9,803.5 L255.0,804.4 L253.4,805.2 L252.9,805.9 L253.8,806.6 L255.5,807.2 L257.4,807.8 L258.6,808.4 L258.6,809.1 L257.4,809.8 L255.7,810.6 L254.1,811.4 L253.3,812.1 L253.7,812.7 L255.0,813.3 L256.8,813.9 L258.3,814.4 L259.0,815.0 L258.7,815.7 L257.6,816.3 L255.9,817.0 L254.5,817.7 L253.7,818.4 L253.8,819.0 L254.8,819.5 L256.3,820.0 L258.2,820.6 L259.3,821.2 L259.2,821.9 L258.1,822.6 L256.5,823.3 L255.0,824.0 L254.1,824.7 L254.1,825.3 L254.9,825.8 L256.3,826.3 L257.8,826.8 L259.1,827.3 L259.7,827.8 L259.5,828.3 L258.8,828.9 L257.6,829.4 L255.6,830.2 L254.4,831.0 L254.4,831.7 L255.6,832.3 L257.4,833.0 L259.0,833.7 L259.8,834.3 L259.5,835.0 L258.2,835.7 L256.4,836.2 L254.9,836.8 L254.2,837.4 L254.5,838.0 L255.8,838.8 L257.6,839.6 L259.0,840.4 L259.4,841.2 L258.6,841.8 L256.9,842.3 L254.9,842.8 L253.6,843.3 L253.4,843.8 L254.0,844.4 L255.6,845.4 L257.3,846.4 L258.3,847.4 L258.0,848.0 L256.6,848.5 L254.6,848.8 L252.8,849.2 L252.2,849.8 L253.0,850.7 L254.6,851.8 L256.3,853.0 L257.0,853.9 L256.4,854.6 L254.6,854.9 L253.1,855.0 L251.9,855.2 L251.0,855.5 L250.8,855.9 L251.2,856.6 L252.1,857.3 L253.2,858.2 L254.4,859.1 L255.1,859.8 L255.2,860.4 L254.7,860.8 L253.6,861.0 L252.2,861.1 L250.7,861.1 L249.6,861.2 L249.0,861.5 L249.0,862.1 L249.6,862.9 L250.6,863.8 L251.7,864.8 L252.6,865.8 L252.9,866.5 L252.6,867.0 L251.7,867.1 L250.3,867.1 L248.8,866.9 L247.5,866.9 L246.6,867.0 L246.5,867.5 L246.9,868.3 L247.8,869.4 L248.8,870.5 L249.6,871.6 L249.9,872.5 L249.6,872.9 L248.6,873.0 L246.8,872.7 L244.9,872.2 L243.6,872.2 L243.4,873.0 L243.9,873.9 L244.7,875.1 L245.5,876.4 L246.0,877.5 L246.0,878.2 L245.4,878.5 L244.2,878.2 L242.8,877.7 L241.3,877.2 L240.1,877.0 L239.5,877.2 L239.6,878.0 L240.2,879.3 L241.0,880.7 L241.6,882.1 L241.7,883.0 L241.2,883.4 L240.1,883.2 L238.6,882.6 L237.1,881.9 L235.9,881.6 L235.3,881.8 L235.4,882.7 L235.9,884.1 L236.6,885.6 L237.2,887.0 L237.2,887.8 L236.6,888.1 L235.5,887.8 L234.0,887.1 L232.6,886.4 L231.4,886.1 L230.9,886.3 L230.9,887.1 L231.3,888.4 L231.9,889.8 L232.5,891.1 L232.7,892.1 L232.4,892.6 L231.6,892.5 L230.5,892.1 L229.2,891.5 L227.4,890.7 L226.4,890.7 L226.3,891.6 L226.8,893.1 L227.6,894.8 L228.1,896.2 L228.0,896.9 L227.3,897.0 L226.2,896.7 L224.9,896.1 L223.3,895.4 L222.2,895.2" fill="none" stroke="#1f2e40" stroke-width="2.1"/>
<path d="M224.0,897.0 L224.4,898.4 L224.9,899.5 L225.5,899.9 L226.2,899.3 L226.8,898.2 L227.4,896.8 L228.1,895.5 L228.7,894.7 L229.3,894.7 L229.8,895.6 L230.3,897.2 L230.8,898.9 L231.4,900.2 L232.0,900.3 L232.8,899.3 L233.6,897.6 L234.5,895.9 L235.3,895.1 L236.0,895.7 L236.4,896.8 L236.8,898.2 L237.2,899.5 L237.7,900.5 L238.1,900.9 L238.7,900.6 L239.3,899.6 L240.0,898.2 L240.6,896.9 L241.2,895.9 L241.8,895.6 L242.3,896.1 L242.8,897.2 L243.2,898.8 L243.7,900.2 L244.2,901.2 L244.7,901.4 L245.3,900.7 L246.0,899.5 L246.7,898.0 L247.4,896.7 L248.0,896.1 L248.5,896.3 L249.0,897.4 L249.5,898.9 L250.0,900.5 L250.5,901.6 L251.1,901.8 L251.7,901.2 L252.4,900.0 L253.1,898.4 L253.7,897.1 L254.3,896.5 L254.9,896.8 L255.4,897.8 L255.9,899.4 L256.4,900.9 L256.9,902.0 L257.5,902.2 L258.1,901.6 L258.8,900.3 L259.4,898.8 L260.1,897.5 L260.7,896.9 L261.2,897.1 L261.7,898.0 L262.2,899.5 L262.7,901.0 L263.2,902.2 L263.8,902.6 L264.3,902.2 L264.9,901.2 L265.5,899.7 L266.1,898.4 L266.7,897.4 L267.2,897.1 L267.8,897.6 L268.2,898.7 L268.7,900.0 L269.2,901.4 L269.7,902.4 L270.2,902.8 L271.0,902.2 L271.5,901.1 L272.0,899.7 L272.6,898.5 L273.1,897.6 L273.6,897.3 L274.1,897.7 L274.6,898.7 L275.1,900.1 L275.6,901.5 L276.1,902.5 L276.6,902.9 L277.1,902.6 L277.7,901.7 L278.2,900.3 L278.8,898.9 L279.4,897.8 L279.9,897.4 L280.4,897.7 L280.9,898.7 L281.5,900.1 L282.0,901.6 L282.5,902.6 L283.0,903.1 L283.6,902.7 L284.1,901.7 L284.7,900.3 L285.3,898.9 L285.8,897.8 L286.4,897.5 L286.9,897.9 L287.4,899.0 L288.0,900.5 L288.5,901.9 L289.0,902.8 L289.6,903.1 L290.1,902.6 L290.7,901.5 L291.2,900.0 L291.7,898.7 L292.3,897.8 L292.8,897.5 L293.3,898.1 L293.9,899.2 L294.4,900.7 L295.0,902.0 L295.5,902.9 L296.1,903.1 L296.6,902.5 L297.1,901.4 L297.6,900.0 L298.1,898.6 L298.6,897.7 L299.1,897.5 L299.6,897.9 L300.2,898.9 L300.7,900.3 L301.3,901.6 L301.8,902.6 L302.3,903.0 L302.8,902.7 L303.3,901.8 L304.0,899.8 L304.6,898.0 L305.3,897.2 L306.1,897.9 L306.9,899.5 L307.7,901.3 L308.5,902.5 L309.2,902.5 L309.8,901.3 L310.4,899.4 L310.9,897.7 L311.5,896.9 L312.1,897.1 L312.9,898.3 L313.7,899.9 L314.5,901.3 L315.2,902.0 L315.8,901.8 L316.3,900.7 L316.6,899.1 L316.9,897.6 L317.4,896.3 L318.0,896.1 L318.8,896.9 L319.8,898.4 L320.7,899.9 L321.5,900.8 L322.1,900.8 L322.6,899.9 L322.9,898.4 L323.1,896.8 L323.3,895.5 L323.7,894.8 L324.2,894.9 L324.9,895.6 L325.8,896.7 L326.7,897.9 L327.5,898.8 L328.5,899.2 L329.0,898.2 L329.1,896.3 L329.0,894.4 L329.2,893.0 L329.7,892.8 L330.8,893.6 L332.2,894.9 L333.6,896.0 L334.6,896.4 L335.1,895.7 L335.0,894.2 L334.6,892.3 L334.2,890.7 L334.4,889.9 L335.3,890.0 L336.8,890.9 L338.5,891.9 L339.9,892.5 L340.5,892.0 L340.3,890.5 L339.8,889.2 L339.1,887.4 L339.0,886.2 L339.6,886.0 L341.1,886.5 L342.9,887.3 L344.5,887.9 L345.4,887.7 L345.3,886.6 L344.5,884.9 L343.5,883.1 L343.2,881.9 L343.8,881.5 L345.4,881.9 L347.4,882.5 L349.1,882.8 L349.7,882.3 L349.5,881.5 L348.9,880.4 L348.0,879.2 L347.3,878.1 L346.8,877.2 L346.9,876.7 L347.6,876.6 L348.7,876.7 L350.2,877.0 L351.6,877.3 L352.7,877.3 L353.3,877.0 L353.3,876.4 L352.7,875.4 L351.8,874.3 L350.8,873.2 L350.1,872.2 L350.0,871.6 L350.5,871.2 L351.5,871.2 L353.0,871.4 L354.5,871.5 L355.7,871.5 L356.4,871.2 L356.4,870.6 L355.7,869.6 L354.6,868.6 L353.5,867.5 L352.8,866.6 L352.6,866.0 L353.2,865.6 L354.3,865.5 L355.9,865.5 L357.4,865.5 L358.7,865.3 L359.0,864.8 L358.4,864.0 L357.4,862.9 L356.2,861.9 L355.4,860.9 L355.0,860.2 L355.4,859.7 L356.7,859.6 L358.4,859.6 L360.0,859.7 L361.1,859.5 L361.5,859.0 L361.1,858.2 L360.0,857.1 L358.6,856.0 L357.5,855.1 L357.2,854.4 L357.7,854.0 L358.8,853.8 L360.3,853.6 L361.9,853.3 L363.0,852.9 L363.4,852.3 L362.6,851.5 L361.1,850.5 L359.3,849.5 L358.5,848.9 L358.4,848.4 L359.0,847.9 L360.2,847.5 L361.9,847.1 L363.4,846.7 L364.2,846.1 L364.0,845.4 L362.8,844.6 L361.0,843.8 L359.4,842.9 L359.0,842.1 L360.1,841.5 L362.2,840.8 L364.2,840.1 L364.7,839.3 L363.4,838.3 L361.1,837.2 L359.5,836.2 L360.1,835.3 L361.3,834.8 L362.7,834.4 L364.0,833.9 L364.9,833.5 L365.1,832.9 L364.6,832.4 L363.5,831.8 L362.0,831.1 L360.6,830.5 L359.8,829.9 L359.9,829.2 L361.0,828.7 L362.7,828.1 L364.3,827.5 L365.3,826.9 L365.3,826.3 L364.3,825.6 L362.6,824.9 L361.0,824.2 L360.1,823.5 L360.2,822.8 L361.4,822.2 L363.1,821.6 L364.8,821.0 L365.6,820.4 L365.4,819.7 L364.5,819.2 L363.2,818.6 L361.9,818.1 L360.8,817.5 L360.2,817.0 L360.3,816.5 L361.1,816.0 L362.3,815.6 L363.8,815.1 L365.0,814.6 L365.7,814.1 L365.8,813.6 L365.2,813.0 L364.0,812.5 L362.6,811.9 L361.3,811.4 L360.5,810.8 L360.4,810.3 L361.0,809.7 L362.3,809.2 L363.8,808.7 L365.1,808.2 L365.9,807.7 L365.9,807.1 L365.2,806.6 L363.9,806.0 L362.4,805.4 L361.1,804.8 L360.5,804.2 L360.7,803.7 L361.7,803.1 L363.1,802.6 L364.7,802.0 L365.8,801.5 L366.1,800.9 L365.5,800.3 L364.3,799.7 L362.7,799.1 L361.3,798.5 L360.6,797.9 L360.8,797.3 L361.9,796.7 L363.5,796.1 L365.0,795.5 L366.0,794.9 L366.1,794.3 L365.1,793.6 L363.6,793.0 L361.9,792.4 L360.8,791.7 L360.7,791.1 L361.5,790.5 L363.1,789.8 L364.8,789.2 L366.0,788.5 L366.1,787.9 L365.2,787.2 L363.5,786.6 L361.8,785.9 L360.7,785.2 L360.8,784.5 L362.0,783.9 L363.9,783.2 L365.5,782.5 L366.2,781.8 L365.7,781.1 L364.2,780.4 L362.3,779.7 L360.9,779.0 L360.8,778.3 L361.9,777.5 L363.8,776.8 L365.5,776.1 L366.3,775.4 L365.6,774.6 L363.9,773.9 L361.9,773.1 L361.0,772.6 L360.7,772.1 L361.0,771.6 L362.0,771.1 L363.3,770.6 L364.7,770.1 L365.7,769.6 L366.3,769.1 L366.1,768.5 L365.3,768.0 L364.0,767.5 L362.5,767.0 L361.4,766.4 L360.7,765.9 L360.9,765.4 L361.7,764.8 L363.0,764.3 L364.5,763.8 L365.7,763.2 L366.3,762.7 L366.1,762.1 L365.2,761.6 L363.8,761.0 L362.3,760.5 L361.2,759.9 L360.7,759.3 L361.1,758.8 L362.2,758.2 L363.7,757.7 L365.2,757.1 L366.1,756.5 L366.3,755.9 L365.6,755.4 L364.2,754.8 L362.6,754.2 L361.3,753.6 L360.7,753.0 L361.0,752.4 L362.2,751.8 L363.8,751.2 L365.3,750.6 L366.2,750.0 L366.2,749.4 L365.3,748.8 L363.8,748.2 L362.2,747.6 L361.0,747.0 L360.8,746.4 L361.5,745.7 L363.0,745.1 L364.7,744.5 L365.9,743.9 L366.3,743.2 L365.7,742.6 L364.2,742.0 L362.4,741.3 L361.1,740.7 L360.7,740.0 L361.5,739.4 L363.0,738.7 L364.7,738.1 L366.0,737.4 L366.3,736.8 L365.4,736.1 L363.8,735.4 L362.0,734.7 L360.9,734.1 L360.9,733.4 L362.0,732.7 L363.8,732.0 L365.5,731.4 L366.3,730.7 L365.9,730.0 L364.5,729.3 L362.6,728.6 L361.1,727.9 L360.8,727.2 L361.7,726.5 L363.5,725.7 L365.3,725.0 L366.3,724.3 L366.0,723.6 L364.5,722.9 L362.5,722.1 L361.1,721.4 L360.8,720.7 L362.0,719.9 L363.9,719.2 L365.7,718.5 L366.4,717.7 L365.6,717.0 L363.8,716.2 L361.8,715.4 L360.8,714.7 L361.2,713.9 L362.9,713.2 L365.0,712.4 L366.3,711.6 L366.1,710.8 L364.5,710.1 L362.4,709.3 L361.0,708.5 L361.0,707.7 L362.6,706.9 L364.7,706.1 L366.2,705.3 L366.1,704.5 L364.6,703.7 L362.4,702.9 L360.9,702.0 L361.1,701.2 L362.8,700.4 L364.4,699.8 L365.7,699.3 L366.3,698.7 L366.3,698.2 L365.4,697.6 L364.1,697.1 L362.6,696.5 L361.4,696.0 L360.8,695.4 L361.1,694.8 L362.2,694.3 L363.6,693.7 L365.1,693.1 L366.2,692.6 L366.4,692.0 L365.7,691.4 L364.4,690.8 L362.8,690.2 L361.5,689.6 L360.8,689.0 L361.1,688.5 L362.2,687.9 L363.8,687.3 L365.3,686.7 L366.3,686.1 L366.3,685.4 L365.4,684.8 L363.9,684.2 L362.2,683.6 L361.1,683.0 L360.9,682.3 L361.7,681.7 L363.2,681.1 L364.9,680.5 L366.1,679.8 L366.4,679.2 L365.7,678.6 L364.2,677.9 L362.5,677.3 L361.2,676.6 L360.9,676.0 L361.7,675.3 L363.2,674.7 L365.0,674.0 L366.2,673.4 L366.4,672.7 L365.5,672.0 L363.8,671.4 L362.1,670.7 L361.0,670.0 L361.0,669.4 L362.2,668.7 L363.9,668.0 L365.6,667.3 L366.4,666.7 L366.1,666.0 L364.6,665.3 L362.8,664.6 L361.3,663.9 L360.9,663.2 L361.7,662.5 L363.4,661.8 L365.2,661.1 L366.3,660.4 L366.3,659.7 L365.0,659.0 L363.1,658.3 L361.5,657.6 L360.9,656.9 L361.6,656.2 L363.3,655.5 L365.2,654.7 L366.4,654.0 L366.2,653.3 L364.9,652.6 L362.9,651.9 L361.4,651.1 L360.9,650.4 L361.8,649.7 L363.6,648.9 L365.5,648.2 L366.5,647.5 L366.0,646.7 L364.4,646.0 L362.4,645.2 L361.1,644.5 L361.1,643.8 L362.4,643.0 L364.4,642.3 L365.6,641.8 L366.3,641.3 L366.4,640.8 L365.9,640.3 L364.8,639.7 L363.5,639.2 L362.2,638.7 L361.2,638.2 L360.9,637.7 L361.2,637.2 L362.2,636.7 L363.5,636.2 L364.8,635.7 L365.9,635.2 L366.5,634.7 L366.3,634.2 L365.5,633.6 L364.3,633.1 L362.9,632.6 L361.7,632.1 L361.0,631.6 L361.0,631.1 L361.7,630.6 L362.8,630.0 L364.2,629.5 L365.5,629.0 L366.3,628.5 L366.5,628.0 L365.9,627.4 L364.8,626.9 L363.4,626.4 L362.0,625.9 L361.1,625.4 L360.9,624.8 L361.4,624.3 L362.5,623.8 L363.9,623.3 L365.2,622.7 L366.2,622.2 L366.5,621.7 L366.1,621.2 L365.0,620.6 L363.6,620.1 L362.2,619.6 L361.2,619.0 L360.9,618.5 L361.3,618.0 L362.3,617.4 L363.7,616.9 L365.1,616.4 L366.1,615.8 L366.5,615.3 L366.1,614.8 L365.0,614.2 L363.6,613.7 L362.2,613.2 L361.2,612.6 L360.9,612.1 L361.3,611.6 L362.4,611.0 L363.8,610.5 L365.2,609.9 L366.2,609.4 L366.5,608.9 L366.0,608.3 L364.9,607.8 L363.5,607.2 L362.1,606.7 L361.1,606.1 L360.9,605.6 L361.5,605.1 L362.7,604.5 L364.1,604.0 L365.5,603.4 L366.3,602.9 L366.5,602.3 L365.8,601.8 L364.6,601.2 L363.1,600.7 L361.8,600.1 L361.0,599.6 L361.0,599.1 L361.8,598.5 L363.1,598.0 L364.6,597.4 L365.8,596.9 L366.5,596.3 L366.3,595.8 L365.4,595.2 L364.1,594.7 L362.6,594.1 L361.4,593.5 L360.9,593.0 L361.2,592.4 L362.2,591.9 L363.7,591.3 L365.1,590.8 L366.2,590.2 L366.5,589.7 L366.0,589.1 L364.9,588.6 L363.4,588.0 L362.0,587.4 L361.1,586.9 L361.0,586.3 L361.6,585.8 L362.9,585.2 L364.4,584.7 L365.7,584.1 L366.4,583.5 L366.4,583.0 L365.5,582.4 L364.1,581.9 L362.6,581.3 L361.4,580.8 L360.9,580.2 L361.2,579.6 L362.3,579.1 L363.7,578.5 L365.2,578.0 L366.2,577.4 L366.5,576.8 L365.9,576.3 L364.7,575.7 L363.2,575.1 L361.8,574.6 L361.0,574.0 L361.0,573.5 L361.8,572.9 L363.1,572.3 L364.7,571.8 L365.9,571.2 L366.5,570.6 L366.2,570.1 L365.2,569.5 L363.8,569.0 L362.3,568.4 L361.2,567.8 L360.9,567.3 L361.4,566.7 L362.6,566.1 L364.1,565.6 L365.5,565.0 L366.4,564.4 L366.4,563.9 L365.6,563.3 L364.3,562.7 L362.8,562.2 L361.5,561.6 L360.9,561.0 L361.2,560.5 L362.2,559.9 L363.7,559.3 L365.1,558.8 L366.2,558.2 L366.5,557.6 L366.0,557.1 L364.7,556.5 L363.2,555.9 L361.8,555.4 L361.0,554.8 L361.0,554.2 L361.8,553.7 L363.2,553.1 L364.7,552.5 L366.0,552.0 L366.5,551.4 L366.2,550.8 L365.1,550.3 L363.7,549.7 L362.2,549.1 L361.2,548.6 L360.9,548.0 L361.5,547.4 L362.8,546.9 L364.3,546.3 L365.7,545.7 L366.4,545.2 L366.4,544.6 L365.5,544.0 L364.1,543.5 L362.6,542.9 L361.4,542.3 L360.9,541.8 L361.3,541.2 L362.4,540.6 L363.9,540.1 L365.3,539.5 L366.3,538.9 L366.5,538.4 L365.8,537.8 L364.5,537.2 L363.0,536.7 L361.7,536.1 L361.0,535.5 L361.1,535.0 L362.0,534.4 L363.4,533.8 L364.9,533.3 L366.1,532.7 L366.5,532.1 L366.1,531.6 L365.0,531.0 L363.5,530.4 L362.0,529.9 L361.1,529.3 L360.9,528.8 L361.6,528.2 L362.9,527.6 L364.4,527.1 L365.7,526.5 L366.4,525.9 L366.3,525.4 L365.4,524.8 L364.0,524.2 L362.5,523.7 L361.4,523.1 L360.9,522.6 L361.3,522.0 L362.4,521.4 L363.9,520.9 L365.3,520.3 L366.3,519.7 L366.5,519.2 L365.8,518.6 L364.6,518.1 L363.1,517.5 L361.7,516.9 L361.0,516.4 L361.0,515.8 L361.9,515.3 L363.2,514.7 L364.7,514.1 L365.9,513.6 L366.5,513.0 L366.2,512.5 L365.2,511.9 L363.7,511.3 L362.3,510.8 L361.2,510.2 L360.9,509.7 L361.4,509.1 L362.5,508.6 L364.0,508.0 L365.4,507.4 L366.3,506.9 L366.4,506.3 L365.8,505.8 L364.5,505.2 L363.0,504.7 L361.7,504.1 L361.0,503.6 L361.0,503.0 L361.8,502.5 L363.2,501.9 L364.7,501.4 L365.9,500.8 L366.5,500.3 L366.2,499.7 L365.3,499.2 L363.9,498.6 L362.4,498.1 L361.3,497.5 L360.9,497.0 L361.2,496.4 L362.3,495.9 L363.7,495.3 L365.2,494.8 L366.2,494.2 L366.5,493.7 L366.0,493.1 L364.9,492.6 L363.4,492.0 L362.0,491.5 L361.1,490.9 L360.9,490.4 L361.5,489.9 L362.6,489.3 L364.1,488.8 L365.4,488.2 L366.3,487.7 L366.4,487.1 L365.8,486.6 L364.6,486.1 L363.1,485.5 L361.8,485.0 L361.0,484.5 L360.9,483.9 L361.6,483.4 L362.8,482.8 L364.3,482.3 L365.6,481.8 L366.4,481.2 L366.4,480.7 L365.7,480.2 L364.5,479.6 L363.0,479.1 L361.8,478.6 L361.0,478.0 L360.9,477.5 L361.6,477.0 L362.8,476.4 L364.3,475.9 L365.5,475.4 L366.3,474.9 L366.4,474.3 L365.8,473.8 L364.6,473.3 L363.2,472.7 L361.9,472.2 L361.1,471.7 L360.9,471.2 L361.5,470.6 L362.6,470.1 L364.0,469.6 L365.3,469.1 L366.2,468.6 L366.5,468.0 L366.0,467.5 L364.9,467.0 L363.5,466.5 L362.2,466.0 L361.2,465.4 L360.9,464.9 L361.2,464.4 L362.2,463.9 L363.5,463.4 L364.9,462.9 L365.9,462.4 L366.4,461.8 L366.3,461.3 L365.4,460.8 L364.2,460.3 L362.8,459.8 L361.6,459.3 L360.9,458.8 L360.9,458.3 L361.6,457.8 L362.8,457.3 L364.1,456.8 L365.4,456.3 L366.2,455.7 L366.4,455.2 L366.0,454.7 L365.0,454.2 L363.7,453.7 L361.8,453.0 L360.9,452.2 L361.4,451.5 L363.0,450.8 L365.0,450.0 L366.3,449.3 L366.2,448.5 L364.9,447.8 L362.9,447.1 L361.3,446.3 L360.9,445.6 L361.8,444.9 L363.6,444.1 L365.5,443.4 L366.4,442.7 L366.0,442.0 L364.5,441.2 L362.6,440.5 L361.2,439.8 L360.9,439.1 L361.9,438.4 L363.8,437.7 L365.5,437.0 L366.4,436.3 L366.0,435.6 L364.5,434.9 L362.7,434.2 L361.2,433.5 L360.9,432.8 L361.8,432.1 L363.5,431.4 L365.2,430.7 L366.3,430.0 L366.2,429.3 L365.0,428.6 L363.2,428.0 L361.6,427.3 L360.8,426.6 L361.3,425.9 L362.7,425.3 L364.5,424.6 L365.9,423.9 L366.4,423.3 L365.8,422.6 L364.3,422.0 L362.5,421.3 L361.2,420.7 L360.8,420.0 L361.6,419.4 L363.1,418.7 L364.8,418.1 L366.1,417.4 L366.4,416.8 L365.6,416.1 L364.1,415.5 L362.4,414.9 L361.2,414.3 L360.8,413.6 L361.5,413.0 L362.9,412.4 L364.6,411.8 L365.9,411.2 L366.4,410.5 L366.0,409.9 L364.7,409.3 L363.1,408.7 L361.6,408.1 L360.9,407.5 L361.0,406.9 L362.0,406.3 L363.6,405.7 L365.1,405.2 L366.1,404.6 L366.4,404.0 L365.7,403.4 L364.4,402.8 L362.9,402.3 L361.6,401.7 L360.9,401.1 L361.0,400.6 L361.9,400.0 L363.8,399.2 L365.6,398.5 L366.4,397.7 L365.7,397.0 L363.9,396.2 L362.0,395.5 L360.9,394.8 L361.2,394.0 L362.7,393.3 L364.7,392.5 L366.1,391.8 L366.3,391.0 L365.1,390.3 L363.2,389.6 L361.5,388.9 L360.8,388.1 L361.5,387.4 L363.2,386.7 L365.1,385.9 L366.3,385.2 L366.1,384.5 L364.8,383.8 L362.9,383.1 L361.3,382.4 L360.8,381.6 L361.6,380.9 L363.3,380.2 L365.2,379.5 L366.3,378.8 L366.1,378.1 L364.8,377.4 L362.9,376.7 L361.3,376.0 L360.8,375.3 L361.4,374.6 L363.1,373.9 L364.9,373.2 L366.1,372.5 L366.2,371.8 L365.2,371.1 L363.4,370.5 L361.7,369.8 L360.8,369.1 L361.1,368.4 L362.4,367.7 L364.2,367.1 L365.8,366.4 L366.3,365.7 L365.7,365.0 L364.2,364.4 L362.4,363.7 L361.1,363.1 L360.7,362.4 L361.6,361.7 L363.2,361.1 L364.9,360.4 L366.1,359.7 L366.2,359.1 L365.3,358.4 L363.7,357.8 L362.0,357.1 L360.9,356.5 L360.8,355.8 L361.8,355.2 L363.4,354.6 L365.1,353.9 L366.1,353.3 L366.2,352.6 L365.2,352.0 L363.6,351.4 L361.9,350.7 L360.9,350.1 L360.8,349.5 L361.7,348.8 L363.2,348.2 L364.9,347.6 L366.0,347.0 L366.2,346.3 L365.5,345.7 L364.0,345.1 L362.3,344.5 L361.1,343.9 L360.7,343.3 L361.2,342.7 L362.6,342.1 L364.2,341.5 L365.6,340.8 L366.2,340.2 L365.9,339.6 L364.8,339.0 L363.2,338.4 L361.7,337.9 L360.8,337.3 L360.7,336.7 L361.6,336.1 L363.0,335.5 L364.6,334.9 L365.8,334.3 L366.2,333.7 L365.8,333.1 L364.6,332.6 L363.0,332.0 L361.6,331.4 L360.7,330.9 L360.7,330.3 L361.5,329.7 L362.9,329.1 L364.4,328.6 L365.6,328.0 L366.2,327.4 L365.9,326.9 L364.9,326.3 L363.4,325.7 L362.0,325.2 L360.9,324.6 L360.6,324.1 L361.1,323.5 L362.2,323.0 L363.7,322.4 L365.0,321.9 L366.0,321.3 L366.1,320.8 L365.6,320.2 L364.4,319.7 L362.9,319.2 L361.6,318.6 L360.7,318.1 L360.6,317.6 L361.2,317.0 L362.3,316.5 L363.8,316.0 L365.1,315.4 L365.9,314.9 L366.1,314.4 L365.6,313.9 L364.5,313.3 L363.1,312.8 L361.8,312.3 L360.8,311.8 L360.5,311.3 L360.9,310.8 L361.9,310.3 L363.2,309.8 L364.6,309.3 L365.6,308.7 L366.1,308.2 L365.9,307.7 L364.6,307.0 L362.6,306.3 L360.9,305.5 L360.5,304.8 L361.5,304.1 L363.3,303.3 L365.1,302.6 L366.0,301.9 L365.6,301.1 L364.1,300.4 L362.2,299.7 L360.8,299.0 L360.5,298.3 L361.5,297.6 L363.2,296.9 L365.0,296.2 L366.0,295.5 L365.8,294.9 L364.5,294.2 L362.7,293.5 L361.1,292.9 L360.4,292.2 L360.9,291.5 L362.3,290.9 L364.1,290.2 L365.5,289.5 L366.0,288.9 L365.4,288.2 L364.0,287.6 L362.2,287.0 L360.9,286.4 L360.4,285.7 L360.9,285.1 L362.3,284.5 L363.9,283.8 L365.3,283.2 L366.0,282.6 L365.6,282.0 L364.4,281.4 L362.8,280.8 L361.4,280.2 L360.5,279.6 L360.5,279.1 L361.3,278.5 L362.7,277.9 L364.3,277.3 L365.5,276.7 L365.9,276.1 L365.5,275.6 L364.5,275.0 L363.0,274.5 L361.5,273.9 L360.6,273.4 L360.3,272.8 L360.9,272.3 L362.0,271.7 L363.4,271.2 L364.8,270.7 L365.7,270.1 L365.9,269.6 L365.4,269.1 L364.3,268.6 L362.9,268.1 L361.6,267.6 L360.7,267.1 L360.3,266.6 L360.8,265.9 L362.2,265.3 L364.0,264.6 L365.3,263.9 L365.9,263.3 L365.3,262.7 L364.0,262.1 L362.3,261.5 L360.9,260.9 L360.3,260.3 L360.5,259.7 L361.6,259.1 L363.2,258.5 L364.6,257.9 L365.6,257.3 L365.8,256.8 L365.2,256.2 L363.9,255.7 L362.4,255.1 L361.1,254.6 L360.4,254.1 L360.3,253.5 L360.9,253.0 L362.0,252.5 L363.4,252.0" fill="none" stroke="#1f2e40" stroke-width="2.1"/>
<path d="M361,176 L361,200" stroke="#1f2e40" stroke-width="2"/>
<path d="M374,175 C362,190 350,208 352,222 C354,234 362,240 368,240 C376,240 384,234 385,222 C386,205 384,190 381,176" fill="none" stroke="#1f2e40" stroke-width="5.5"/>
<path d="M374,175 C362,190 350,208 352,222 C354,234 362,240 368,240 C376,240 384,234 385,222 C386,205 384,190 381,176" fill="none" stroke="#7f91a8" stroke-width="1.6"/>
<path d="M376,178 C372,195 372,215 376,232" fill="none" stroke="#1f2e40" stroke-width="2.4"/>
<path d="M366,192 L370,196 L366,200 L370,204 L366,208 L370,212 L366,216" fill="none" stroke="#1f2e40" stroke-width="1.6"/>
<rect x="362" y="222" width="8" height="18" rx="3" fill="#a7b4c4" stroke="#1f2e40" stroke-width="1.6"/>
<path d="M369,166 C369,158 388,158 388,166 C388,174 380,177 378,177 C374,177 369,174 369,166 Z" fill="#6a7c92" stroke="#1f2e40" stroke-width="2"/>
<path d="M372,158 C372,152 377,152 377,158 M380,158 C380,152 386,152 386,158" fill="none" stroke="#1f2e40" stroke-width="2.2"/>
<path d="M370,168 C375,171 383,171 387,167" fill="none" stroke="#1f2e40" stroke-width="1.2"/>
<path d="M340,370 C330,378 324,392 326,404 C328,414 334,420 338,424 C342,420 350,412 351,400 C352,388 348,376 340,370 Z" fill="#8e8b84" stroke="#111" stroke-width="2.6"/>
<path d="M333,384 C331,398 334,410 340,418 M347,382 C349,396 346,408 341,416 M340,372 L340,395" fill="none" stroke="#111" stroke-width="2"/>
<path d="M333,420 C333,414 347,414 347,420 L347,430 C347,436 333,436 333,430 Z" fill="#222" stroke="#111" stroke-width="1.5"/>
<path d="M152,891 C160,886 170,882 182,883 C193,884 198,890 198,897 C198,905 190,911 180,911 C168,911 160,904 152,897" fill="none" stroke="#1f2e40" stroke-width="3"/>
<rect x="173.5" y="890" width="17.5" height="16" rx="2" fill="#9fb0c5" stroke="#1f2e40" stroke-width="2.4"/>
<path d="M177,894 L182,902 L187,894" fill="none" stroke="#1f2e40" stroke-width="1.8"/>
<ellipse cx="198" cy="899" rx="8" ry="9" fill="none" stroke="#1f2e40" stroke-width="2.6"/>
<path d="M145,884 L150,880 L154,886 L150,892 L154,897" fill="none" stroke="#1f2e40" stroke-width="2.2"/>
</g>
<g id="coin">
<path d="M685,150 C700,143 735,143 748,153 L747,343 C735,350 705,352 681,337 L680,330 C682,300 684,200 685,150 Z" fill="#a9b8cb" stroke="#1f2e40" stroke-width="2"/>
<path d="M687,152 C700,146 735,146 746,154 C735,160 700,161 687,152 Z" fill="#b2bfcf" stroke="#3c4f66" stroke-width="1.3"/>
<path d="M697,153 C705,149 725,149 735,154 M705,154 C712,151 722,151 728,154" fill="none" stroke="#4a5d75" stroke-width="1"/>
<g fill="none" stroke="#42556d" stroke-width="1.1"><path d="M684.2,161.5 C700,166.5 730,164.5 747.5,159.5"/><path d="M684.1,168.6 C700,173.6 730,171.6 747.5,166.6"/><path d="M683.9,175.7 C700,180.7 730,178.7 747.5,173.7"/><path d="M683.8,182.8 C700,187.8 730,185.8 747.5,180.8"/><path d="M683.6,189.9 C700,194.9 730,192.9 747.5,187.9"/><path d="M683.5,197.0 C700,202.0 730,200.0 747.5,195.0"/><path d="M683.3,204.1 C700,209.1 730,207.1 747.5,202.1"/><path d="M683.2,211.2 C700,216.2 730,214.2 747.5,209.2"/><path d="M683.0,218.3 C700,223.3 730,221.3 747.5,216.3"/><path d="M682.8,225.4 C700,230.4 730,228.4 747.5,223.4"/><path d="M682.7,232.5 C700,237.5 730,235.5 747.5,230.5"/><path d="M682.5,239.6 C700,244.6 730,242.6 747.5,237.6"/><path d="M682.4,246.7 C700,251.7 730,249.7 747.5,244.7"/><path d="M682.2,253.8 C700,258.8 730,256.8 747.5,251.8"/><path d="M682.1,260.9 C700,265.9 730,263.9 747.5,258.9"/><path d="M681.9,268.0 C700,273.0 730,271.0 747.5,266.0"/><path d="M681.7,275.1 C700,280.1 730,278.1 747.5,273.1"/><path d="M681.6,282.2 C700,287.2 730,285.2 747.5,280.2"/><path d="M681.4,289.3 C700,294.3 730,292.3 747.5,287.3"/><path d="M681.3,296.4 C700,301.4 730,299.4 747.5,294.4"/><path d="M681.1,303.5 C700,308.5 730,306.5 747.5,301.5"/><path d="M681.0,310.6 C700,315.6 730,313.6 747.5,308.6"/><path d="M680.8,317.7 C700,322.7 730,320.7 747.5,315.7"/><path d="M680.7,324.8 C700,329.8 730,327.8 747.5,322.8"/><path d="M680.5,331.9 C700,336.9 730,334.9 747.5,329.9"/><path d="M680.3,339.0 C700,344.0 730,342.0 747.5,337.0"/></g>
<text x="715.5" y="263.3" text-anchor="middle" style="font-size:20.3px">Coin</text>
<text x="715.5" y="286.5" text-anchor="middle" style="font-size:20.3px">Roll</text>
<path d="M694,500 L714,500 L713,868 C713,874 694,874 694,868 Z" fill="#8495ac" stroke="#1f2e40" stroke-width="1.8"/>
<path d="M691,382 L712,382 L716.5,479 L688.5,479 Z" fill="#8d9db3" stroke="#1f2e40" stroke-width="1.8"/>
<ellipse cx="701.5" cy="382" rx="10.5" ry="3" fill="#9dabbe" stroke="#1f2e40" stroke-width="1.5"/>
<path d="M686.5,479 L717.5,479 L717.5,486 L686.5,486 Z" fill="#8e9db1" stroke="#1f2e40" stroke-width="1.5"/>
<path d="M686.5,486 L704.5,486 L700,573 L693,575 Z" fill="#8193a9" stroke="#1f2e40" stroke-width="1.8"/>
<path d="M704.5,483 L718.5,483 L718.5,504.5 L704.5,504.5 Z" fill="#8a9ab0" stroke="#1f2e40" stroke-width="1.6"/>
</g>
<g id="insert">
<path d="M830.0,491.0 C828.7,499.2 826.2,521.8 822.0,540.0 C817.8,558.2 809.8,581.7 805.0,600.0 C800.2,618.3 796.2,633.3 793.0,650.0 C789.8,666.7 787.8,683.3 786.0,700.0 C784.2,716.7 783.0,735.0 782.0,750.0 C781.0,765.0 780.3,783.3 780.0,790.0" fill="none" stroke="#1f2e40" stroke-width="7" stroke-linecap="round"/><path d="M830.0,491.0 C828.7,499.2 826.2,521.8 822.0,540.0 C817.8,558.2 809.8,581.7 805.0,600.0 C800.2,618.3 796.2,633.3 793.0,650.0 C789.8,666.7 787.8,683.3 786.0,700.0 C784.2,716.7 783.0,735.0 782.0,750.0 C781.0,765.0 780.3,783.3 780.0,790.0" fill="none" stroke="#fff" stroke-width="4" stroke-linecap="round"/>
<path d="M836.0,492.0 C834.7,500.0 832.0,522.0 828.0,540.0 C824.0,558.0 816.7,581.7 812.0,600.0 C807.3,618.3 803.2,633.3 800.0,650.0 C796.8,666.7 794.8,683.3 793.0,700.0 C791.2,716.7 790.0,735.0 789.0,750.0 C788.0,765.0 787.3,783.3 787.0,790.0" fill="none" stroke="#1f2e40" stroke-width="7" stroke-linecap="round"/><path d="M836.0,492.0 C834.7,500.0 832.0,522.0 828.0,540.0 C824.0,558.0 816.7,581.7 812.0,600.0 C807.3,618.3 803.2,633.3 800.0,650.0 C796.8,666.7 794.8,683.3 793.0,700.0 C791.2,716.7 790.0,735.0 789.0,750.0 C788.0,765.0 787.3,783.3 787.0,790.0" fill="none" stroke="#fff" stroke-width="4" stroke-linecap="round"/>
<path d="M853.0,520.0 C850.5,526.7 843.5,545.8 838.0,560.0 C832.5,574.2 825.0,590.0 820.0,605.0 C815.0,620.0 811.3,634.2 808.0,650.0 C804.7,665.8 802.0,683.3 800.0,700.0 C798.0,716.7 797.0,735.0 796.0,750.0 C795.0,765.0 794.3,783.3 794.0,790.0" fill="none" stroke="#1f2e40" stroke-width="7" stroke-linecap="round"/><path d="M853.0,520.0 C850.5,526.7 843.5,545.8 838.0,560.0 C832.5,574.2 825.0,590.0 820.0,605.0 C815.0,620.0 811.3,634.2 808.0,650.0 C804.7,665.8 802.0,683.3 800.0,700.0 C798.0,716.7 797.0,735.0 796.0,750.0 C795.0,765.0 794.3,783.3 794.0,790.0" fill="none" stroke="#fff" stroke-width="4" stroke-linecap="round"/>
<path d="M860.0,530.0 C857.7,536.7 851.3,556.7 846.0,570.0 C840.7,583.3 833.2,596.7 828.0,610.0 C822.8,623.3 818.5,635.0 815.0,650.0 C811.5,665.0 809.0,683.3 807.0,700.0 C805.0,716.7 804.0,735.0 803.0,750.0 C802.0,765.0 801.3,783.3 801.0,790.0" fill="none" stroke="#1f2e40" stroke-width="7" stroke-linecap="round"/><path d="M860.0,530.0 C857.7,536.7 851.3,556.7 846.0,570.0 C840.7,583.3 833.2,596.7 828.0,610.0 C822.8,623.3 818.5,635.0 815.0,650.0 C811.5,665.0 809.0,683.3 807.0,700.0 C805.0,716.7 804.0,735.0 803.0,750.0 C802.0,765.0 801.3,783.3 801.0,790.0" fill="none" stroke="#fff" stroke-width="4" stroke-linecap="round"/>
<path d="M849,218 C849,260 843,285 843,290 L845,348 L848,348 C850,400 852,440 855,470 L852,472 L853,521 L858,523 C857,560 856,600 856,680 L929,680 L934,523 L943,521 L945,471 L946,470 L949,348 L951,345 L956,283 C958,250 959,230 958.6,213 Z" fill="#fff" stroke="#1f2e40" stroke-width="2.2"/>
<path d="M884,222 C900,216 925,216 938,222 L936,350 L932,352 L932,380 C925,388 885,388 875,380 L875,352 L880,350 Z" fill="#abb3be"/>
<g fill="none" stroke="#8c97a6" stroke-width="1.2"><path d="M884,228.0 C900,231.0 920,231.0 937,228.0"/><path d="M884,234.2 C900,237.2 920,237.2 937,234.2"/><path d="M884,240.4 C900,243.4 920,243.4 937,240.4"/><path d="M884,246.6 C900,249.6 920,249.6 937,246.6"/><path d="M884,252.8 C900,255.8 920,255.8 937,252.8"/><path d="M884,259.0 C900,262.0 920,262.0 937,259.0"/><path d="M884,265.2 C900,268.2 920,268.2 937,265.2"/><path d="M884,271.4 C900,274.4 920,274.4 937,271.4"/><path d="M884,277.6 C900,280.6 920,280.6 937,277.6"/><path d="M884,283.8 C900,286.8 920,286.8 937,283.8"/><path d="M884,290.0 C900,293.0 920,293.0 937,290.0"/><path d="M884,296.2 C900,299.2 920,299.2 937,296.2"/><path d="M884,302.4 C900,305.4 920,305.4 937,302.4"/><path d="M884,308.6 C900,311.6 920,311.6 937,308.6"/><path d="M884,314.8 C900,317.8 920,317.8 937,314.8"/><path d="M884,321.0 C900,324.0 920,324.0 937,321.0"/><path d="M884,327.2 C900,330.2 920,330.2 937,327.2"/><path d="M884,333.4 C900,336.4 920,336.4 937,333.4"/><path d="M884,339.6 C900,342.6 920,342.6 937,339.6"/><path d="M884,345.8 C900,348.8 920,348.8 937,345.8"/><path d="M876,352.0 C900,355.0 920,355.0 932,352.0"/><path d="M876,358.2 C900,361.2 920,361.2 932,358.2"/><path d="M876,364.4 C900,367.4 920,367.4 932,364.4"/><path d="M876,370.6 C900,373.6 920,373.6 932,370.6"/><path d="M876,376.8 C900,379.8 920,379.8 932,376.8"/></g>
<path d="M871,397 C871,392 893,392 893,397 L888,680 L865,680 Z" fill="#adb5c0" stroke="#8e99a8" stroke-width="1.3"/>
<path d="M896,386 L916,386 L903,680 L891,680 Z" fill="#a7afbb" stroke="#8e99a8" stroke-width="1.2"/>
<path d="M905,402 C905,397 928,397 928,402 L928,680 L903,680 Z" fill="#adb5c0" stroke="#8e99a8" stroke-width="1.3"/>
<ellipse cx="882" cy="396" rx="11" ry="3" fill="#bec5ce"/>
<ellipse cx="916.5" cy="401" rx="11.5" ry="3" fill="#bec5ce"/>
<path d="M856.4,224 L856.4,285 M858,350 C860,400 864,440 866,462 M869,225 C872,222 880,220 884,222" fill="none" stroke="#1f2e40" stroke-width="1.8"/>
<path d="M849,218 C860,210 885,203 913,203 C935,203 952,207 958.6,213 C950,220 930,226 900,226 C880,226 860,222 849,218 Z" fill="#fff" stroke="#1f2e40" stroke-width="2.2"/>
<path d="M870,218 C885,212 920,210 945,214" fill="none" stroke="#6b7a8c" stroke-width="1"/>
<path d="M843,285 C880,289 920,286 956,283 L951,345 C920,347 880,349 845,348 Z" fill="#fff" fill-opacity="0.2" stroke="#1f2e40" stroke-width="2.2"/>
<path d="M846,290 C880,294 920,291 954,289" fill="none" stroke="#1f2e40" stroke-width="1.5"/>
<path d="M852,472 C880,474 920,472 945,468 L943,521 C920,522 880,523 853,521 Z" fill="#fff" fill-opacity="0.2" stroke="#1f2e40" stroke-width="2.2"/>
<path d="M866,478 L880,478 L878,540 L872,555 L866,540 Z M908,478 L922,478 L921,540 L916,555 L910,540 Z" fill="none" stroke="#8e99a8" stroke-width="1.3"/>
<path d="M880,482 L892,482 L892,502 L880,502 Z M901,482 L913,482 L913,502 L901,502 Z" fill="#a3acb8" stroke="#7f8a99" stroke-width="1"/>
<path d="M851,461 C840,462 832,470 828,478" fill="none" stroke="#1f2e40" stroke-width="6"/>
<path d="M851,461 C840,462 832,470 828,478" fill="none" stroke="#fff" stroke-width="3"/>
<path d="M804,478 C810,474 820,472 826,474 C832,478 834,486 830,491 C822,494 812,493 806,489 Z" fill="#fff" stroke="#1f2e40" stroke-width="1.8"/>
<rect x="800" y="478" width="6" height="10" fill="#2a3a4e"/>
<path d="M768,776 C780,782 800,795 820,812 L846,838 L853,855 C840,854 820,848 800,835 L782,815 C775,815 768,812 766,808 Z" fill="#fff" stroke="#1f2e40" stroke-width="1.6"/>
<path d="M790,815 C800,822 815,830 822,838" fill="none" stroke="#1f2e40" stroke-width="1.5" stroke-dasharray="2,1"/>
<path d="M846.5,599 C836,600 826,606 822,615 C819,628 820,645 820,654 C806,655 792,658 786,665 C778,674 777,690 778,705 C780,714 788,720 795,723 C798,745 800,770 803,790 C808,800 820,803 833,800 C836,815 842,835 849,847 C856,858 866,866 873,876 C877,890 882,910 893,930 C902,945 920,965 937,980 C955,972 980,955 1004,942 C1020,932 1040,918 1052,906 L1058,896 C1050,880 1035,855 1026,840 C1018,820 1012,800 1010,790 C1005,770 998,740 994,720 C990,700 988,675 986,657 C980,640 970,630 960,622 C950,613 940,606 928.5,603 L928.5,658 C915,667 900,678 875,685 C865,682 855,680 846.5,676 Z" fill="#99a9bd" stroke="#1f2e40" stroke-width="2.2"/>
<g fill="none" stroke="#1f2e40" stroke-width="1.6" stroke-linecap="round"><path d="M795,723 C805,730 815,745 820,760 C825,775 830,790 833,800"/><path d="M812,752 C818,760 822,772 822,785"/><path d="M835,797 C845,805 860,810 870,805 C880,800 890,795 895,785"/><path d="M888,830 C900,832 910,830 915,826"/><path d="M873,876 C885,880 900,886 912,888"/><path d="M935,885 C945,884 955,883 968,880"/><path d="M928.5,658 C935,655 945,650 953,646"/><path d="M875,685 C880,688 888,692 893,697"/><path d="M830,620 C835,630 840,640 843,650"/><path d="M915,952 L917,965"/></g>
</g>
<g id="back">
<path d="M1155.0,104.0 C1154.5,101.7 1154.2,93.3 1152.0,90.0 C1149.8,86.7 1146.0,84.7 1142.0,84.0 C1138.0,83.3 1132.7,84.2 1128.0,86.0 C1123.3,87.8 1119.0,90.7 1114.0,95.0 C1109.0,99.3 1103.0,105.7 1098.0,112.0 C1093.0,118.3 1088.2,125.8 1084.0,133.0 C1079.8,140.2 1075.9,147.8 1073.0,155.0 C1070.1,162.2 1068.7,166.8 1066.4,176.0 C1064.1,185.2 1061.1,199.2 1059.0,210.0 C1056.9,220.8 1055.8,230.3 1054.0,241.0 C1052.2,251.7 1050.0,257.5 1048.0,274.0 C1046.0,290.5 1043.7,324.0 1042.0,340.0 C1040.3,356.0 1040.0,360.0 1038.0,370.0 C1036.0,380.0 1033.3,390.3 1030.0,400.0 C1026.7,409.7 1020.0,423.3 1018.0,428.0" fill="none" stroke="#1f2e40" stroke-width="15" stroke-linecap="round"/><path d="M1155.0,104.0 C1154.5,101.7 1154.2,93.3 1152.0,90.0 C1149.8,86.7 1146.0,84.7 1142.0,84.0 C1138.0,83.3 1132.7,84.2 1128.0,86.0 C1123.3,87.8 1119.0,90.7 1114.0,95.0 C1109.0,99.3 1103.0,105.7 1098.0,112.0 C1093.0,118.3 1088.2,125.8 1084.0,133.0 C1079.8,140.2 1075.9,147.8 1073.0,155.0 C1070.1,162.2 1068.7,166.8 1066.4,176.0 C1064.1,185.2 1061.1,199.2 1059.0,210.0 C1056.9,220.8 1055.8,230.3 1054.0,241.0 C1052.2,251.7 1050.0,257.5 1048.0,274.0 C1046.0,290.5 1043.7,324.0 1042.0,340.0 C1040.3,356.0 1040.0,360.0 1038.0,370.0 C1036.0,380.0 1033.3,390.3 1030.0,400.0 C1026.7,409.7 1020.0,423.3 1018.0,428.0" fill="none" stroke="#8a9cb2" stroke-width="10" stroke-linecap="round"/><path d="M1155.0,104.0 C1154.5,101.7 1154.2,93.3 1152.0,90.0 C1149.8,86.7 1146.0,84.7 1142.0,84.0 C1138.0,83.3 1132.7,84.2 1128.0,86.0 C1123.3,87.8 1119.0,90.7 1114.0,95.0 C1109.0,99.3 1103.0,105.7 1098.0,112.0 C1093.0,118.3 1088.2,125.8 1084.0,133.0 C1079.8,140.2 1075.9,147.8 1073.0,155.0 C1070.1,162.2 1068.7,166.8 1066.4,176.0 C1064.1,185.2 1061.1,199.2 1059.0,210.0 C1056.9,220.8 1055.8,230.3 1054.0,241.0 C1052.2,251.7 1050.0,257.5 1048.0,274.0 C1046.0,290.5 1043.7,324.0 1042.0,340.0 C1040.3,356.0 1040.0,360.0 1038.0,370.0 C1036.0,380.0 1033.3,390.3 1030.0,400.0 C1026.7,409.7 1020.0,423.3 1018.0,428.0" fill="none" stroke="#b4c2d2" stroke-width="2.5" stroke-linecap="round" opacity="0.55"/>
<path d="M1157.0,102.0 C1157.0,104.8 1158.2,111.0 1157.0,119.0 C1155.8,127.0 1153.5,139.6 1149.5,150.0 C1145.5,160.4 1138.8,171.3 1133.0,181.3 C1127.2,191.3 1119.7,201.9 1115.0,210.0 C1110.3,218.1 1110.3,217.5 1105.0,230.0 C1099.7,242.5 1090.7,267.4 1083.0,285.0 C1075.3,302.6 1066.2,319.7 1059.0,335.5 C1051.8,351.3 1045.2,368.4 1040.0,380.0 C1034.8,391.6 1031.3,397.0 1028.0,405.0 C1024.7,413.0 1021.3,424.2 1020.0,428.0" fill="none" stroke="#1f2e40" stroke-width="15" stroke-linecap="round"/><path d="M1157.0,102.0 C1157.0,104.8 1158.2,111.0 1157.0,119.0 C1155.8,127.0 1153.5,139.6 1149.5,150.0 C1145.5,160.4 1138.8,171.3 1133.0,181.3 C1127.2,191.3 1119.7,201.9 1115.0,210.0 C1110.3,218.1 1110.3,217.5 1105.0,230.0 C1099.7,242.5 1090.7,267.4 1083.0,285.0 C1075.3,302.6 1066.2,319.7 1059.0,335.5 C1051.8,351.3 1045.2,368.4 1040.0,380.0 C1034.8,391.6 1031.3,397.0 1028.0,405.0 C1024.7,413.0 1021.3,424.2 1020.0,428.0" fill="none" stroke="#8a9cb2" stroke-width="10" stroke-linecap="round"/><path d="M1157.0,102.0 C1157.0,104.8 1158.2,111.0 1157.0,119.0 C1155.8,127.0 1153.5,139.6 1149.5,150.0 C1145.5,160.4 1138.8,171.3 1133.0,181.3 C1127.2,191.3 1119.7,201.9 1115.0,210.0 C1110.3,218.1 1110.3,217.5 1105.0,230.0 C1099.7,242.5 1090.7,267.4 1083.0,285.0 C1075.3,302.6 1066.2,319.7 1059.0,335.5 C1051.8,351.3 1045.2,368.4 1040.0,380.0 C1034.8,391.6 1031.3,397.0 1028.0,405.0 C1024.7,413.0 1021.3,424.2 1020.0,428.0" fill="none" stroke="#b4c2d2" stroke-width="2.5" stroke-linecap="round" opacity="0.55"/>
<rect x="1006" y="422" width="20" height="10" rx="4" fill="#5a6b80" stroke="#1f2e40" stroke-width="2"/>
<rect x="1007" y="430" width="19" height="10" rx="4" fill="#4e5f74" stroke="#1f2e40" stroke-width="2"/>
<path d="M1010,439 L1012,447 M1016,439 L1016,448 M1021,439 L1020,447" stroke="#1f2e40" stroke-width="1.5"/>
<path d="M1145.3,98 L1306,96.6 C1370,98 1413,140 1413,205 L1411.6,876.7 L1176.8,873.7 L1169.4,119 L1145.3,119 Z" fill="#bcc6d2" stroke="#1f2e40" stroke-width="2"/>
<path d="M1169.4,119 L1290,117.4 C1350,117 1396.8,160 1396.8,205 L1396.8,861 L1176.8,859 Z" fill="#b1bbc8"/>
<clipPath id="bclip"><path d="M1169.4,119 L1290,117.4 C1350,117 1396.8,160 1396.8,205 L1396.8,861 L1176.8,859 Z"/></clipPath>
<g clip-path="url(#bclip)"><g fill="#7d8ba0" opacity="0.35" filter="url(#blur6)"><ellipse cx="1300" cy="170" rx="60" ry="35"/><ellipse cx="1350" cy="280" rx="40" ry="40"/><ellipse cx="1250" cy="330" rx="60" ry="12"/><ellipse cx="1300" cy="440" rx="90" ry="20"/><ellipse cx="1230" cy="470" rx="50" ry="25"/><ellipse cx="1300" cy="520" rx="80" ry="15"/><ellipse cx="1260" cy="640" rx="80" ry="25"/><ellipse cx="1330" cy="660" rx="50" ry="30"/><ellipse cx="1250" cy="800" rx="70" ry="30"/><ellipse cx="1340" cy="820" rx="50" ry="25"/><ellipse cx="1210" cy="260" rx="30" ry="40"/><ellipse cx="1220" cy="560" rx="30" ry="30"/></g>
<path d="M1232,128.0 L1316,128.0 M1319,128.0 L1394,128.0 M1342,134.3 L1394,134.3 M1212,140.6 L1267,140.6 M1181,149.3 L1208,149.3 M1235,149.3 L1306,149.3 M1330,149.3 L1394,149.3 M1188,158.8 L1277,158.8 M1312,158.8 L1394,158.8 M1195,165.4 L1306,165.4 M1202,174.9 L1291,174.9 M1325,174.9 L1394,174.9 M1337,181.2 L1391,181.2 M1196,187.3 L1237,187.3 M1239,187.3 L1351,187.3 M1361,195.5 L1394,195.5 M1216,206.0 L1254,206.0 M1264,206.0 L1312,206.0 M1335,206.0 L1387,206.0 M1350,224.3 L1394,224.3 M1181,230.6 L1226,230.6 M1239,230.6 L1266,230.6 M1272,230.6 L1304,230.6 M1192,237.9 L1256,237.9 M1290,237.9 L1394,237.9 M1182,244.3 L1243,244.3 M1276,244.3 L1316,244.3 M1354,244.3 L1394,244.3 M1364,250.4 L1394,250.4 M1199,260.3 L1313,260.3 M1211,270.3 L1320,270.3 M1340,270.3 L1394,270.3 M1187,285.6 L1234,285.6 M1364,292.0 L1394,292.0 M1210,299.6 L1347,299.6 M1200,314.0 L1236,314.0 M1275,314.0 L1372,314.0 M1213,322.2 L1332,322.2 M1342,322.2 L1394,322.2 M1199,338.2 L1221,338.2 M1355,338.2 L1394,338.2 M1182,348.1 L1269,348.1 M1281,348.1 L1393,348.1 M1365,366.5 L1394,366.5 M1212,377.3 L1248,377.3 M1266,377.3 L1294,377.3 M1207,384.0 L1306,384.0 M1341,384.0 L1394,384.0 M1343,392.0 L1394,392.0 M1191,399.0 L1297,399.0 M1320,399.0 L1392,399.0 M1258,408.1 L1394,408.1 M1209,414.3 L1262,414.3 M1181,431.1 L1304,431.1 M1339,431.1 L1394,431.1 M1189,441.7 L1224,441.7 M1234,441.7 L1267,441.7 M1269,441.7 L1313,441.7 M1325,441.7 L1394,441.7 M1192,448.6 L1214,448.6 M1332,466.4 L1394,466.4 M1208,472.8 L1258,472.8 M1188,480.2 L1243,480.2 M1249,480.2 L1323,480.2 M1361,480.2 L1394,480.2 M1190,491.0 L1253,491.0 M1268,491.0 L1345,491.0 M1353,491.0 L1394,491.0 M1194,497.4 L1219,497.4 M1210,517.5 L1247,517.5 M1325,526.4 L1349,526.4 M1203,535.6 L1305,535.6 M1242,544.2 L1271,544.2 M1384,544.2 L1394,544.2 M1306,553.7 L1344,553.7 M1316,560.0 L1371,560.0 M1390,560.0 L1394,560.0 M1217,567.0 L1349,567.0 M1186,574.3 L1320,574.3 M1343,574.3 L1380,574.3 M1387,581.0 L1394,581.0 M1190,589.2 L1227,589.2 M1240,589.2 L1360,589.2 M1390,589.2 L1394,589.2 M1214,598.8 L1269,598.8 M1189,606.9 L1215,606.9 M1312,606.9 L1364,606.9 M1355,617.0 L1394,617.0 M1208,625.2 L1305,625.2 M1307,625.2 L1394,625.2 M1309,633.0 L1394,633.0 M1185,640.9 L1224,640.9 M1260,640.9 L1340,640.9 M1376,640.9 L1394,640.9 M1182,647.9 L1243,647.9 M1339,647.9 L1394,647.9 M1193,656.5 L1254,656.5 M1265,656.5 L1394,656.5 M1213,665.7 L1258,665.7 M1268,665.7 L1336,665.7 M1206,671.8 L1334,671.8 M1357,671.8 L1377,671.8 M1212,682.0 L1349,682.0 M1353,682.0 L1392,682.0 M1323,692.7 L1394,692.7 M1215,699.8 L1312,699.8 M1327,706.4 L1383,706.4 M1213,715.6 L1290,715.6 M1198,721.7 L1299,721.7 M1342,734.9 L1394,734.9 M1300,742.0 L1368,742.0 M1180,748.7 L1207,748.7 M1302,759.4 L1367,759.4 M1374,759.4 L1394,759.4 M1183,770.2 L1319,770.2 M1207,789.9 L1265,789.9 M1179,800.7 L1227,800.7 M1265,800.7 L1394,800.7 M1198,808.8 L1329,808.8 M1191,817.8 L1249,817.8 M1281,817.8 L1310,817.8 M1340,817.8 L1390,817.8 M1391,817.8 L1394,817.8 M1218,828.3 L1269,828.3 M1371,828.3 L1394,828.3 M1334,837.6 L1394,837.6 M1208,845.5 L1251,845.5 M1323,845.5 L1382,845.5 M1344,854.0 L1376,854.0" stroke="#6f7e92" stroke-width="2.2" stroke-dasharray="2,1.5" opacity="0.35" fill="none"/>
</g>
<path d="M1145.3,119 L1290,117.4 C1350,117 1396.8,160 1396.8,205 L1396.8,861 L1176.8,859" fill="none" stroke="#1f2e40" stroke-width="2"/>
<path d="M1204.3,98 L1204.3,119" stroke="#1f2e40" stroke-width="1.8"/>
<path d="M1168,113 L1290,112 C1355,112 1401.8,155 1401.8,205 L1401.8,870 M1181,864.5 L1396,866" fill="none" stroke="#1f2e40" stroke-width="1.6" stroke-dasharray="6,4"/>
<path d="M1172,105 L1198,104" stroke="#1f2e40" stroke-width="2" stroke-dasharray="1.5,1"/>
<rect x="1235.5" y="351" width="161" height="60" fill="#c9d0da" stroke="#1f2e40" stroke-width="2"/>
<rect x="1238" y="557.5" width="158.5" height="59" fill="#c9d0da" stroke="#1f2e40" stroke-width="2"/>
<rect x="1238" y="696.5" width="158.5" height="80" fill="#c9d0da" stroke="#1f2e40" stroke-width="2"/>
<text x="1227.4" y="227.5" class="lb" textLength="121.3" lengthAdjust="spacingAndGlyphs">Hook Velcro</text>
<path d="M1437.9,97 L1437.9,386 M1437.9,577 L1437.9,868" stroke="#000" stroke-width="1.6"/>
<path d="M1431,110 L1437.9,97 L1444.8,110 M1431,855 L1437.9,868 L1444.8,855" fill="none" stroke="#000" stroke-width="1.8"/>
<text transform="translate(1444.7,544.7) rotate(-90)" style="font-size:19px" textLength="146.3" lengthAdjust="spacingAndGlyphs">around 9”or10”</text>
<path d="M1178,896.5 L1233.6,896.5 M1329,896.5 L1410,896.5" stroke="#000" stroke-width="1.6"/>
<path d="M1190,889.5 L1178,896.5 L1190,903.5 M1398,889.5 L1410,896.5 L1398,903.5" fill="none" stroke="#000" stroke-width="1.8"/>
<text x="1243" y="904" style="font-size:20px" textLength="87" lengthAdjust="spacingAndGlyphs">2.5” or 3”</text>
<text x="1272.7" y="941" style="font-size:20px" textLength="44.5" lengthAdjust="spacingAndGlyphs">Back</text>
</g>
<g id="labels">
<rect x="443.5" y="124.5" width="185.6" height="48.1" fill="#fff" stroke="#8a8a8a" stroke-width="1.3"/>
<path d="M443.5,172.6 L337,310" stroke="#9a9a9a" stroke-width="1.1"/>
<text x="449.1" y="144.5" style="font-size:18px;fill:#636363" textLength="158.3" lengthAdjust="spacingAndGlyphs">Sap Pocket can be</text>
<text x="449.1" y="165.9" style="font-size:18.5px;fill:#636363" textLength="176.6" lengthAdjust="spacingAndGlyphs">built in with no zipper</text>
<rect x="447" y="320" width="197.5" height="204" rx="7" fill="#fff" stroke="#000" stroke-width="2"/>
<g class="lb">
<text x="456.7" y="349.6">Sap Pocket for</text>
<text x="456.7" y="372.8">storage &amp; Defense:</text>
<text x="456.7" y="396">Coins</text>
<text x="456.7" y="419.2">Fishing weight</text>
<text x="456.7" y="442.4">Pad lock</text>
<text x="456.7" y="465.6">Thumb drives</text>
<text x="456.7" y="488.8">Small parts</text>
<text x="456.7" y="512">Screwdriver Heads</text>
</g>
<text x="456" y="580" class="lb">Card pockets optional</text>
<rect x="438.5" y="690" width="179" height="156" rx="7" fill="#fff" stroke="#000" stroke-width="2"/>
<g class="lb">
<text x="449.5" y="719">Elastic straps for:</text>
<text x="449.5" y="742.3">Pen</text>
<text x="449.5" y="765.6">Pencil</text>
<text x="449.5" y="788.9">Pen light</text>
<text x="449.5" y="812.2">Phone cable</text>
<text x="449.5" y="835.5">Small tools</text>
</g>
<g class="lb" text-anchor="middle">
<text x="103.5" y="559">Adjustable</text>
<text x="103.5" y="582.5">wrist &amp;</text>
<text x="103.5" y="606">hand strap</text>
<text x="275" y="975.5">Front</text>
<text x="1048" y="537.3">Hook &amp; Loop</text>
<text x="1048" y="560.6">Velcro</text>
<text x="1048" y="583.8">wrap straps</text>
</g>
<g stroke="#000" stroke-width="2" fill="none">
<path d="M313,341.4 L705.4,187.1" marker-start="url(#ah)" marker-end="url(#ah)"/>
<path d="M447,354.5 L305.7,354.5" marker-end="url(#ah)"/>
<path d="M452.5,573.5 L325.4,573" marker-end="url(#ah)"/>
<path d="M260,634.4 L705,635" marker-start="url(#ah)" marker-end="url(#ah)"/>
<path d="M438.5,714 L295,713.3" marker-end="url(#ah)"/>
<path d="M91,617 L73,706" marker-end="url(#ah)"/>
<path d="M719.8,207.6 L903,266.4" marker-start="url(#ah)" marker-end="url(#ah)"/>
<path d="M702.5,416 L878.8,437.2" marker-start="url(#ah)" marker-end="url(#ah)"/>
<path d="M942,320 L1028,516.5 L1267,382.5" marker-start="url(#ah)" marker-end="url(#ah)"/>
<path d="M995.6,557.2 L932.5,497.4" marker-end="url(#ah)"/>
<path d="M1084.5,557.2 L1257,582.5" marker-end="url(#ah)"/>
<path d="M1098.6,589.6 L1264.5,732.5" marker-end="url(#ah)"/>
</g>
</g>
</svg>
</body></html>
